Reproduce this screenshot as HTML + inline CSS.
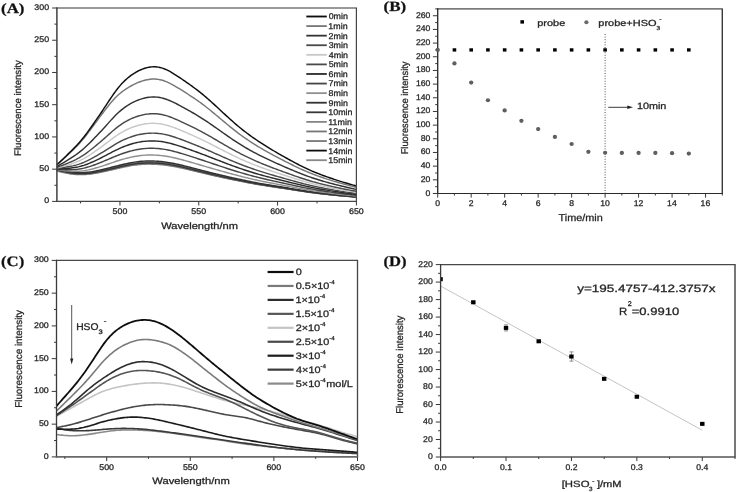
<!DOCTYPE html><html><head><meta charset="utf-8"><style>html,body{margin:0;padding:0;background:#fff;}svg{display:block;will-change:transform;}text{stroke:#262626;stroke-width:0.28px;text-rendering:geometricPrecision;}</style></head><body>
<svg width="738" height="492" viewBox="0 0 738 492">
<rect width="738" height="492" fill="#fff"/>
<defs><filter id="soft" x="0" y="0" width="738" height="492" filterUnits="userSpaceOnUse"><feGaussianBlur stdDeviation="0.35"/></filter></defs>
<g filter="url(#soft)">
<clipPath id="clipA"><rect x="56.9" y="8.0" width="299.5" height="193.4"/></clipPath>
<g clip-path="url(#clipA)">
<path d="M56.90,170.41 L58.48,170.77 L60.07,171.14 L61.65,171.50 L63.24,171.85 L64.82,172.19 L66.41,172.51 L67.99,172.82 L69.58,173.10 L71.16,173.35 L72.75,173.57 L74.33,173.75 L75.92,173.90 L77.50,174.00 L79.09,174.07 L80.67,174.10 L82.25,174.09 L83.84,174.04 L85.42,173.95 L87.01,173.83 L88.59,173.68 L90.18,173.49 L91.76,173.28 L93.35,173.04 L94.93,172.78 L96.52,172.49 L98.10,172.19 L99.69,171.88 L101.27,171.55 L102.86,171.21 L104.44,170.86 L106.02,170.50 L107.61,170.14 L109.19,169.77 L110.78,169.40 L112.36,169.02 L113.95,168.65 L115.53,168.27 L117.12,167.90 L118.70,167.53 L120.29,167.17 L121.87,166.81 L123.46,166.46 L125.04,166.12 L126.62,165.79 L128.21,165.48 L129.79,165.18 L131.38,164.90 L132.96,164.64 L134.55,164.40 L136.13,164.19 L137.72,163.99 L139.30,163.82 L140.89,163.68 L142.47,163.57 L144.06,163.48 L145.64,163.41 L147.23,163.38 L148.81,163.36 L150.39,163.37 L151.98,163.39 L153.56,163.44 L155.15,163.50 L156.73,163.58 L158.32,163.68 L159.90,163.80 L161.49,163.94 L163.07,164.10 L164.66,164.28 L166.24,164.48 L167.83,164.71 L169.41,164.95 L171.00,165.21 L172.58,165.49 L174.16,165.78 L175.75,166.09 L177.33,166.41 L178.92,166.74 L180.50,167.08 L182.09,167.44 L183.67,167.80 L185.26,168.17 L186.84,168.55 L188.43,168.94 L190.01,169.33 L191.60,169.72 L193.18,170.12 L194.77,170.51 L196.35,170.91 L197.93,171.30 L199.52,171.69 L201.10,172.07 L202.69,172.46 L204.27,172.84 L205.86,173.22 L207.44,173.59 L209.03,173.96 L210.61,174.33 L212.20,174.70 L213.78,175.06 L215.37,175.42 L216.95,175.78 L218.53,176.14 L220.12,176.49 L221.70,176.84 L223.29,177.19 L224.87,177.54 L226.46,177.88 L228.04,178.22 L229.63,178.56 L231.21,178.90 L232.80,179.23 L234.38,179.56 L235.97,179.89 L237.55,180.21 L239.14,180.54 L240.72,180.86 L242.30,181.18 L243.89,181.49 L245.47,181.80 L247.06,182.11 L248.64,182.42 L250.23,182.72 L251.81,183.02 L253.40,183.31 L254.98,183.60 L256.57,183.88 L258.15,184.16 L259.74,184.43 L261.32,184.70 L262.91,184.97 L264.49,185.22 L266.07,185.48 L267.66,185.72 L269.24,185.97 L270.83,186.21 L272.41,186.45 L274.00,186.69 L275.58,186.93 L277.17,187.16 L278.75,187.40 L280.34,187.64 L281.92,187.88 L283.51,188.12 L285.09,188.37 L286.68,188.61 L288.26,188.86 L289.84,189.11 L291.43,189.36 L293.01,189.61 L294.60,189.87 L296.18,190.12 L297.77,190.36 L299.35,190.61 L300.94,190.86 L302.52,191.10 L304.11,191.34 L305.69,191.57 L307.28,191.80 L308.86,192.03 L310.44,192.25 L312.03,192.46 L313.61,192.67 L315.20,192.87 L316.78,193.07 L318.37,193.26 L319.95,193.45 L321.54,193.64 L323.12,193.82 L324.71,194.00 L326.29,194.18 L327.88,194.35 L329.46,194.52 L331.05,194.68 L332.63,194.85 L334.21,195.01 L335.80,195.17 L337.38,195.32 L338.97,195.47 L340.55,195.62 L342.14,195.77 L343.72,195.91 L345.31,196.05 L346.89,196.18 L348.48,196.32 L350.06,196.45 L351.65,196.58 L353.23,196.71 L354.82,196.84 L356.40,196.97" fill="none" stroke="#888" stroke-width="1.45" stroke-linejoin="round" stroke-linecap="round"/>
<path d="M56.90,169.78 L58.48,170.16 L60.07,170.53 L61.65,170.89 L63.24,171.25 L64.82,171.60 L66.41,171.93 L67.99,172.24 L69.58,172.53 L71.16,172.78 L72.75,173.00 L74.33,173.19 L75.92,173.34 L77.50,173.45 L79.09,173.52 L80.67,173.55 L82.25,173.54 L83.84,173.49 L85.42,173.40 L87.01,173.27 L88.59,173.12 L90.18,172.93 L91.76,172.71 L93.35,172.47 L94.93,172.20 L96.52,171.91 L98.10,171.60 L99.69,171.28 L101.27,170.95 L102.86,170.60 L104.44,170.24 L106.02,169.88 L107.61,169.51 L109.19,169.13 L110.78,168.75 L112.36,168.37 L113.95,167.99 L115.53,167.60 L117.12,167.22 L118.70,166.85 L120.29,166.47 L121.87,166.11 L123.46,165.75 L125.04,165.41 L126.62,165.07 L128.21,164.75 L129.79,164.45 L131.38,164.17 L132.96,163.90 L134.55,163.66 L136.13,163.44 L137.72,163.24 L139.30,163.07 L140.89,162.92 L142.47,162.80 L144.06,162.71 L145.64,162.65 L147.23,162.61 L148.81,162.59 L150.39,162.60 L151.98,162.62 L153.56,162.67 L155.15,162.73 L156.73,162.82 L158.32,162.92 L159.90,163.04 L161.49,163.18 L163.07,163.34 L164.66,163.53 L166.24,163.74 L167.83,163.97 L169.41,164.21 L171.00,164.48 L172.58,164.76 L174.16,165.06 L175.75,165.38 L177.33,165.70 L178.92,166.04 L180.50,166.39 L182.09,166.75 L183.67,167.12 L185.26,167.50 L186.84,167.89 L188.43,168.28 L190.01,168.68 L191.60,169.08 L193.18,169.49 L194.77,169.89 L196.35,170.29 L197.93,170.69 L199.52,171.09 L201.10,171.48 L202.69,171.87 L204.27,172.26 L205.86,172.65 L207.44,173.03 L209.03,173.41 L210.61,173.78 L212.20,174.16 L213.78,174.53 L215.37,174.90 L216.95,175.26 L218.53,175.63 L220.12,175.99 L221.70,176.35 L223.29,176.70 L224.87,177.05 L226.46,177.41 L228.04,177.75 L229.63,178.10 L231.21,178.44 L232.80,178.78 L234.38,179.12 L235.97,179.45 L237.55,179.79 L239.14,180.12 L240.72,180.44 L242.30,180.77 L243.89,181.09 L245.47,181.41 L247.06,181.72 L248.64,182.03 L250.23,182.34 L251.81,182.64 L253.40,182.94 L254.98,183.24 L256.57,183.53 L258.15,183.81 L259.74,184.09 L261.32,184.37 L262.91,184.63 L264.49,184.90 L266.07,185.15 L267.66,185.41 L269.24,185.66 L270.83,185.90 L272.41,186.15 L274.00,186.39 L275.58,186.63 L277.17,186.88 L278.75,187.12 L280.34,187.36 L281.92,187.61 L283.51,187.85 L285.09,188.10 L286.68,188.36 L288.26,188.61 L289.84,188.86 L291.43,189.12 L293.01,189.38 L294.60,189.63 L296.18,189.89 L297.77,190.14 L299.35,190.39 L300.94,190.64 L302.52,190.89 L304.11,191.13 L305.69,191.37 L307.28,191.61 L308.86,191.84 L310.44,192.06 L312.03,192.28 L313.61,192.49 L315.20,192.70 L316.78,192.90 L318.37,193.10 L319.95,193.29 L321.54,193.48 L323.12,193.67 L324.71,193.85 L326.29,194.03 L327.88,194.21 L329.46,194.38 L331.05,194.55 L332.63,194.71 L334.21,194.88 L335.80,195.04 L337.38,195.20 L338.97,195.35 L340.55,195.50 L342.14,195.65 L343.72,195.80 L345.31,195.94 L346.89,196.08 L348.48,196.22 L350.06,196.35 L351.65,196.49 L353.23,196.62 L354.82,196.75 L356.40,196.88" fill="none" stroke="#111" stroke-width="1.45" stroke-linejoin="round" stroke-linecap="round"/>
<path d="M56.90,171.04 L58.48,171.39 L60.07,171.75 L61.65,172.10 L63.24,172.45 L64.82,172.78 L66.41,173.10 L67.99,173.40 L69.58,173.67 L71.16,173.91 L72.75,174.13 L74.33,174.31 L75.92,174.45 L77.50,174.56 L79.09,174.62 L80.67,174.65 L82.25,174.64 L83.84,174.59 L85.42,174.51 L87.01,174.39 L88.59,174.24 L90.18,174.05 L91.76,173.85 L93.35,173.61 L94.93,173.35 L96.52,173.08 L98.10,172.78 L99.69,172.47 L101.27,172.15 L102.86,171.82 L104.44,171.48 L106.02,171.13 L107.61,170.77 L109.19,170.41 L110.78,170.05 L112.36,169.68 L113.95,169.31 L115.53,168.94 L117.12,168.58 L118.70,168.21 L120.29,167.86 L121.87,167.51 L123.46,167.16 L125.04,166.83 L126.62,166.51 L128.21,166.20 L129.79,165.91 L131.38,165.64 L132.96,165.39 L134.55,165.15 L136.13,164.94 L137.72,164.75 L139.30,164.58 L140.89,164.44 L142.47,164.33 L144.06,164.24 L145.64,164.18 L147.23,164.14 L148.81,164.13 L150.39,164.13 L151.98,164.16 L153.56,164.20 L155.15,164.27 L156.73,164.34 L158.32,164.44 L159.90,164.56 L161.49,164.70 L163.07,164.85 L164.66,165.03 L166.24,165.23 L167.83,165.45 L169.41,165.69 L171.00,165.94 L172.58,166.21 L174.16,166.50 L175.75,166.80 L177.33,167.12 L178.92,167.44 L180.50,167.78 L182.09,168.12 L183.67,168.48 L185.26,168.84 L186.84,169.22 L188.43,169.59 L190.01,169.98 L191.60,170.36 L193.18,170.75 L194.77,171.14 L196.35,171.52 L197.93,171.90 L199.52,172.29 L201.10,172.66 L202.69,173.04 L204.27,173.41 L205.86,173.78 L207.44,174.15 L209.03,174.52 L210.61,174.88 L212.20,175.24 L213.78,175.59 L215.37,175.95 L216.95,176.30 L218.53,176.65 L220.12,176.99 L221.70,177.34 L223.29,177.68 L224.87,178.02 L226.46,178.36 L228.04,178.69 L229.63,179.02 L231.21,179.35 L232.80,179.68 L234.38,180.00 L235.97,180.32 L237.55,180.64 L239.14,180.96 L240.72,181.27 L242.30,181.58 L243.89,181.89 L245.47,182.20 L247.06,182.50 L248.64,182.80 L250.23,183.10 L251.81,183.39 L253.40,183.67 L254.98,183.96 L256.57,184.24 L258.15,184.51 L259.74,184.78 L261.32,185.04 L262.91,185.30 L264.49,185.55 L266.07,185.80 L267.66,186.04 L269.24,186.28 L270.83,186.52 L272.41,186.75 L274.00,186.99 L275.58,187.22 L277.17,187.45 L278.75,187.68 L280.34,187.92 L281.92,188.15 L283.51,188.39 L285.09,188.63 L286.68,188.87 L288.26,189.12 L289.84,189.36 L291.43,189.61 L293.01,189.85 L294.60,190.10 L296.18,190.34 L297.77,190.59 L299.35,190.83 L300.94,191.07 L302.52,191.31 L304.11,191.54 L305.69,191.77 L307.28,192.00 L308.86,192.22 L310.44,192.43 L312.03,192.64 L313.61,192.85 L315.20,193.04 L316.78,193.24 L318.37,193.43 L319.95,193.61 L321.54,193.80 L323.12,193.97 L324.71,194.15 L326.29,194.32 L327.88,194.49 L329.46,194.66 L331.05,194.82 L332.63,194.98 L334.21,195.14 L335.80,195.29 L337.38,195.44 L338.97,195.59 L340.55,195.74 L342.14,195.88 L343.72,196.02 L345.31,196.16 L346.89,196.29 L348.48,196.42 L350.06,196.55 L351.65,196.68 L353.23,196.81 L354.82,196.94 L356.40,197.06" fill="none" stroke="#777" stroke-width="1.45" stroke-linejoin="round" stroke-linecap="round"/>
<path d="M56.90,169.47 L58.48,169.85 L60.07,170.22 L61.65,170.59 L63.24,170.96 L64.82,171.31 L66.41,171.64 L67.99,171.95 L69.58,172.24 L71.16,172.50 L72.75,172.72 L74.33,172.91 L75.92,173.06 L77.50,173.17 L79.09,173.24 L80.67,173.27 L82.25,173.26 L83.84,173.21 L85.42,173.12 L87.01,173.00 L88.59,172.84 L90.18,172.65 L91.76,172.43 L93.35,172.18 L94.93,171.91 L96.52,171.62 L98.10,171.31 L99.69,170.98 L101.27,170.64 L102.86,170.29 L104.44,169.93 L106.02,169.57 L107.61,169.19 L109.19,168.81 L110.78,168.43 L112.36,168.04 L113.95,167.66 L115.53,167.27 L117.12,166.88 L118.70,166.50 L120.29,166.13 L121.87,165.76 L123.46,165.40 L125.04,165.05 L126.62,164.71 L128.21,164.39 L129.79,164.08 L131.38,163.80 L132.96,163.53 L134.55,163.28 L136.13,163.06 L137.72,162.86 L139.30,162.69 L140.89,162.54 L142.47,162.42 L144.06,162.33 L145.64,162.26 L147.23,162.22 L148.81,162.21 L150.39,162.21 L151.98,162.24 L153.56,162.29 L155.15,162.35 L156.73,162.43 L158.32,162.54 L159.90,162.66 L161.49,162.80 L163.07,162.97 L164.66,163.16 L166.24,163.36 L167.83,163.59 L169.41,163.85 L171.00,164.11 L172.58,164.40 L174.16,164.70 L175.75,165.02 L177.33,165.35 L178.92,165.69 L180.50,166.04 L182.09,166.41 L183.67,166.78 L185.26,167.17 L186.84,167.56 L188.43,167.95 L190.01,168.36 L191.60,168.76 L193.18,169.17 L194.77,169.58 L196.35,169.98 L197.93,170.38 L199.52,170.79 L201.10,171.18 L202.69,171.58 L204.27,171.97 L205.86,172.36 L207.44,172.75 L209.03,173.13 L210.61,173.51 L212.20,173.89 L213.78,174.26 L215.37,174.64 L216.95,175.01 L218.53,175.37 L220.12,175.74 L221.70,176.10 L223.29,176.46 L224.87,176.81 L226.46,177.17 L228.04,177.52 L229.63,177.87 L231.21,178.21 L232.80,178.56 L234.38,178.90 L235.97,179.24 L237.55,179.57 L239.14,179.91 L240.72,180.24 L242.30,180.56 L243.89,180.89 L245.47,181.21 L247.06,181.53 L248.64,181.84 L250.23,182.15 L251.81,182.46 L253.40,182.76 L254.98,183.06 L256.57,183.35 L258.15,183.64 L259.74,183.92 L261.32,184.20 L262.91,184.47 L264.49,184.73 L266.07,184.99 L267.66,185.25 L269.24,185.50 L270.83,185.75 L272.41,186.00 L274.00,186.24 L275.58,186.49 L277.17,186.73 L278.75,186.98 L280.34,187.22 L281.92,187.47 L283.51,187.72 L285.09,187.97 L286.68,188.23 L288.26,188.48 L289.84,188.74 L291.43,189.00 L293.01,189.26 L294.60,189.52 L296.18,189.77 L297.77,190.03 L299.35,190.29 L300.94,190.54 L302.52,190.79 L304.11,191.03 L305.69,191.27 L307.28,191.51 L308.86,191.74 L310.44,191.97 L312.03,192.19 L313.61,192.40 L315.20,192.61 L316.78,192.82 L318.37,193.02 L319.95,193.21 L321.54,193.40 L323.12,193.59 L324.71,193.78 L326.29,193.96 L327.88,194.13 L329.46,194.31 L331.05,194.48 L332.63,194.65 L334.21,194.81 L335.80,194.98 L337.38,195.14 L338.97,195.29 L340.55,195.44 L342.14,195.59 L343.72,195.74 L345.31,195.89 L346.89,196.03 L348.48,196.17 L350.06,196.30 L351.65,196.44 L353.23,196.57 L354.82,196.71 L356.40,196.84" fill="none" stroke="#777" stroke-width="1.45" stroke-linejoin="round" stroke-linecap="round"/>
<path d="M56.90,170.57 L58.48,170.93 L60.07,171.29 L61.65,171.65 L63.24,172.00 L64.82,172.34 L66.41,172.66 L67.99,172.96 L69.58,173.24 L71.16,173.49 L72.75,173.71 L74.33,173.89 L75.92,174.03 L77.50,174.14 L79.09,174.21 L80.67,174.24 L82.25,174.23 L83.84,174.18 L85.42,174.09 L87.01,173.97 L88.59,173.82 L90.18,173.63 L91.76,173.42 L93.35,173.18 L94.93,172.92 L96.52,172.64 L98.10,172.34 L99.69,172.03 L101.27,171.70 L102.86,171.36 L104.44,171.01 L106.02,170.66 L107.61,170.30 L109.19,169.93 L110.78,169.56 L112.36,169.19 L113.95,168.81 L115.53,168.44 L117.12,168.07 L118.70,167.70 L120.29,167.34 L121.87,166.98 L123.46,166.63 L125.04,166.30 L126.62,165.97 L128.21,165.66 L129.79,165.37 L131.38,165.09 L132.96,164.83 L134.55,164.59 L136.13,164.38 L137.72,164.18 L139.30,164.01 L140.89,163.87 L142.47,163.76 L144.06,163.67 L145.64,163.61 L147.23,163.57 L148.81,163.55 L150.39,163.56 L151.98,163.58 L153.56,163.63 L155.15,163.69 L156.73,163.77 L158.32,163.87 L159.90,163.99 L161.49,164.13 L163.07,164.29 L164.66,164.47 L166.24,164.67 L167.83,164.89 L169.41,165.13 L171.00,165.39 L172.58,165.67 L174.16,165.96 L175.75,166.27 L177.33,166.59 L178.92,166.92 L180.50,167.26 L182.09,167.61 L183.67,167.97 L185.26,168.34 L186.84,168.72 L188.43,169.10 L190.01,169.49 L191.60,169.88 L193.18,170.28 L194.77,170.67 L196.35,171.06 L197.93,171.45 L199.52,171.84 L201.10,172.22 L202.69,172.60 L204.27,172.98 L205.86,173.36 L207.44,173.73 L209.03,174.10 L210.61,174.47 L212.20,174.83 L213.78,175.19 L215.37,175.55 L216.95,175.91 L218.53,176.26 L220.12,176.62 L221.70,176.97 L223.29,177.31 L224.87,177.66 L226.46,178.00 L228.04,178.34 L229.63,178.68 L231.21,179.01 L232.80,179.34 L234.38,179.67 L235.97,180.00 L237.55,180.32 L239.14,180.64 L240.72,180.96 L242.30,181.28 L243.89,181.59 L245.47,181.90 L247.06,182.21 L248.64,182.51 L250.23,182.81 L251.81,183.11 L253.40,183.40 L254.98,183.69 L256.57,183.97 L258.15,184.25 L259.74,184.52 L261.32,184.79 L262.91,185.05 L264.49,185.30 L266.07,185.56 L267.66,185.80 L269.24,186.05 L270.83,186.29 L272.41,186.53 L274.00,186.76 L275.58,187.00 L277.17,187.23 L278.75,187.47 L280.34,187.71 L281.92,187.95 L283.51,188.19 L285.09,188.43 L286.68,188.68 L288.26,188.93 L289.84,189.17 L291.43,189.42 L293.01,189.67 L294.60,189.92 L296.18,190.17 L297.77,190.42 L299.35,190.67 L300.94,190.91 L302.52,191.15 L304.11,191.39 L305.69,191.62 L307.28,191.85 L308.86,192.07 L310.44,192.29 L312.03,192.51 L313.61,192.71 L315.20,192.92 L316.78,193.11 L318.37,193.31 L319.95,193.49 L321.54,193.68 L323.12,193.86 L324.71,194.04 L326.29,194.21 L327.88,194.38 L329.46,194.55 L331.05,194.72 L332.63,194.88 L334.21,195.04 L335.80,195.20 L337.38,195.35 L338.97,195.50 L340.55,195.65 L342.14,195.79 L343.72,195.94 L345.31,196.07 L346.89,196.21 L348.48,196.34 L350.06,196.48 L351.65,196.61 L353.23,196.74 L354.82,196.87 L356.40,197.00" fill="none" stroke="#858585" stroke-width="1.45" stroke-linejoin="round" stroke-linecap="round"/>
<path d="M56.90,170.10 L58.48,170.47 L60.07,170.83 L61.65,171.20 L63.24,171.55 L64.82,171.90 L66.41,172.22 L67.99,172.53 L69.58,172.81 L71.16,173.06 L72.75,173.28 L74.33,173.47 L75.92,173.62 L77.50,173.73 L79.09,173.80 L80.67,173.83 L82.25,173.81 L83.84,173.76 L85.42,173.68 L87.01,173.55 L88.59,173.40 L90.18,173.21 L91.76,172.99 L93.35,172.75 L94.93,172.49 L96.52,172.20 L98.10,171.90 L99.69,171.58 L101.27,171.25 L102.86,170.90 L104.44,170.55 L106.02,170.19 L107.61,169.83 L109.19,169.45 L110.78,169.08 L112.36,168.70 L113.95,168.32 L115.53,167.94 L117.12,167.56 L118.70,167.19 L120.29,166.82 L121.87,166.46 L123.46,166.11 L125.04,165.76 L126.62,165.43 L128.21,165.12 L129.79,164.82 L131.38,164.53 L132.96,164.27 L134.55,164.03 L136.13,163.81 L137.72,163.62 L139.30,163.45 L140.89,163.30 L142.47,163.18 L144.06,163.09 L145.64,163.03 L147.23,162.99 L148.81,162.98 L150.39,162.98 L151.98,163.01 L153.56,163.05 L155.15,163.12 L156.73,163.20 L158.32,163.30 L159.90,163.42 L161.49,163.56 L163.07,163.72 L164.66,163.91 L166.24,164.11 L167.83,164.34 L169.41,164.58 L171.00,164.85 L172.58,165.13 L174.16,165.42 L175.75,165.73 L177.33,166.06 L178.92,166.39 L180.50,166.74 L182.09,167.09 L183.67,167.46 L185.26,167.84 L186.84,168.22 L188.43,168.61 L190.01,169.00 L191.60,169.40 L193.18,169.80 L194.77,170.20 L196.35,170.60 L197.93,170.99 L199.52,171.39 L201.10,171.78 L202.69,172.16 L204.27,172.55 L205.86,172.93 L207.44,173.31 L209.03,173.69 L210.61,174.06 L212.20,174.43 L213.78,174.80 L215.37,175.16 L216.95,175.52 L218.53,175.88 L220.12,176.24 L221.70,176.59 L223.29,176.95 L224.87,177.30 L226.46,177.64 L228.04,177.99 L229.63,178.33 L231.21,178.67 L232.80,179.01 L234.38,179.34 L235.97,179.67 L237.55,180.00 L239.14,180.33 L240.72,180.65 L242.30,180.97 L243.89,181.29 L245.47,181.60 L247.06,181.92 L248.64,182.22 L250.23,182.53 L251.81,182.83 L253.40,183.13 L254.98,183.42 L256.57,183.71 L258.15,183.99 L259.74,184.26 L261.32,184.53 L262.91,184.80 L264.49,185.06 L266.07,185.32 L267.66,185.57 L269.24,185.81 L270.83,186.06 L272.41,186.30 L274.00,186.54 L275.58,186.78 L277.17,187.02 L278.75,187.26 L280.34,187.50 L281.92,187.74 L283.51,187.99 L285.09,188.24 L286.68,188.49 L288.26,188.74 L289.84,188.99 L291.43,189.24 L293.01,189.49 L294.60,189.75 L296.18,190.00 L297.77,190.25 L299.35,190.50 L300.94,190.75 L302.52,191.00 L304.11,191.24 L305.69,191.47 L307.28,191.70 L308.86,191.93 L310.44,192.15 L312.03,192.37 L313.61,192.58 L315.20,192.79 L316.78,192.99 L318.37,193.18 L319.95,193.37 L321.54,193.56 L323.12,193.75 L324.71,193.93 L326.29,194.10 L327.88,194.28 L329.46,194.45 L331.05,194.62 L332.63,194.78 L334.21,194.94 L335.80,195.10 L337.38,195.26 L338.97,195.41 L340.55,195.56 L342.14,195.71 L343.72,195.85 L345.31,195.99 L346.89,196.13 L348.48,196.27 L350.06,196.40 L351.65,196.53 L353.23,196.67 L354.82,196.80 L356.40,196.93" fill="none" stroke="#383838" stroke-width="1.45" stroke-linejoin="round" stroke-linecap="round"/>
<path d="M56.90,168.96 L58.48,169.33 L60.07,169.70 L61.65,170.07 L63.24,170.42 L64.82,170.76 L66.41,171.09 L67.99,171.40 L69.58,171.67 L71.16,171.92 L72.75,172.14 L74.33,172.32 L75.92,172.46 L77.50,172.56 L79.09,172.62 L80.67,172.64 L82.25,172.61 L83.84,172.55 L85.42,172.45 L87.01,172.30 L88.59,172.13 L90.18,171.92 L91.76,171.69 L93.35,171.42 L94.93,171.13 L96.52,170.82 L98.10,170.50 L99.69,170.15 L101.27,169.80 L102.86,169.43 L104.44,169.05 L106.02,168.66 L107.61,168.27 L109.19,167.87 L110.78,167.47 L112.36,167.06 L113.95,166.66 L115.53,166.25 L117.12,165.85 L118.70,165.45 L120.29,165.06 L121.87,164.68 L123.46,164.31 L125.04,163.94 L126.62,163.59 L128.21,163.26 L129.79,162.94 L131.38,162.64 L132.96,162.37 L134.55,162.11 L136.13,161.88 L137.72,161.67 L139.30,161.49 L140.89,161.34 L142.47,161.21 L144.06,161.12 L145.64,161.05 L147.23,161.01 L148.81,160.99 L150.39,160.99 L151.98,161.02 L153.56,161.07 L155.15,161.13 L156.73,161.22 L158.32,161.32 L159.90,161.45 L161.49,161.59 L163.07,161.76 L164.66,161.96 L166.24,162.17 L167.83,162.41 L169.41,162.67 L171.00,162.94 L172.58,163.24 L174.16,163.55 L175.75,163.88 L177.33,164.21 L178.92,164.57 L180.50,164.93 L182.09,165.30 L183.67,165.69 L185.26,166.08 L186.84,166.48 L188.43,166.89 L190.01,167.31 L191.60,167.72 L193.18,168.14 L194.77,168.56 L196.35,168.97 L197.93,169.39 L199.52,169.80 L201.10,170.21 L202.69,170.62 L204.27,171.02 L205.86,171.42 L207.44,171.82 L209.03,172.22 L210.61,172.61 L212.20,173.00 L213.78,173.39 L215.37,173.78 L216.95,174.16 L218.53,174.54 L220.12,174.91 L221.70,175.29 L223.29,175.66 L224.87,176.03 L226.46,176.40 L228.04,176.76 L229.63,177.12 L231.21,177.48 L232.80,177.84 L234.38,178.19 L235.97,178.54 L237.55,178.89 L239.14,179.23 L240.72,179.57 L242.30,179.91 L243.89,180.25 L245.47,180.58 L247.06,180.91 L248.64,181.23 L250.23,181.55 L251.81,181.87 L253.40,182.18 L254.98,182.49 L256.57,182.79 L258.15,183.09 L259.74,183.38 L261.32,183.67 L262.91,183.95 L264.49,184.22 L266.07,184.49 L267.66,184.75 L269.24,185.02 L270.83,185.27 L272.41,185.53 L274.00,185.78 L275.58,186.03 L277.17,186.29 L278.75,186.54 L280.34,186.79 L281.92,187.05 L283.51,187.31 L285.09,187.57 L286.68,187.83 L288.26,188.09 L289.84,188.36 L291.43,188.63 L293.01,188.89 L294.60,189.16 L296.18,189.42 L297.77,189.69 L299.35,189.95 L300.94,190.21 L302.52,190.47 L304.11,190.72 L305.69,190.97 L307.28,191.21 L308.86,191.45 L310.44,191.68 L312.03,191.91 L313.61,192.13 L315.20,192.35 L316.78,192.56 L318.37,192.76 L319.95,192.96 L321.54,193.16 L323.12,193.35 L324.71,193.54 L326.29,193.73 L327.88,193.91 L329.46,194.09 L331.05,194.27 L332.63,194.44 L334.21,194.61 L335.80,194.78 L337.38,194.94 L338.97,195.10 L340.55,195.26 L342.14,195.42 L343.72,195.57 L345.31,195.72 L346.89,195.86 L348.48,196.00 L350.06,196.15 L351.65,196.28 L353.23,196.42 L354.82,196.56 L356.40,196.70" fill="none" stroke="#333" stroke-width="1.45" stroke-linejoin="round" stroke-linecap="round"/>
<path d="M56.90,169.66 L58.48,169.87 L60.07,170.08 L61.65,170.29 L63.24,170.49 L64.82,170.67 L66.41,170.85 L67.99,171.00 L69.58,171.13 L71.16,171.23 L72.75,171.30 L74.33,171.33 L75.92,171.33 L77.50,171.29 L79.09,171.21 L80.67,171.08 L82.25,170.91 L83.84,170.70 L85.42,170.45 L87.01,170.16 L88.59,169.84 L90.18,169.48 L91.76,169.10 L93.35,168.69 L94.93,168.26 L96.52,167.81 L98.10,167.34 L99.69,166.85 L101.27,166.36 L102.86,165.84 L104.44,165.32 L106.02,164.79 L107.61,164.26 L109.19,163.72 L110.78,163.17 L112.36,162.63 L113.95,162.09 L115.53,161.56 L117.12,161.04 L118.70,160.53 L120.29,160.04 L121.87,159.56 L123.46,159.10 L125.04,158.66 L126.62,158.23 L128.21,157.83 L129.79,157.45 L131.38,157.09 L132.96,156.76 L134.55,156.46 L136.13,156.18 L137.72,155.93 L139.30,155.71 L140.89,155.52 L142.47,155.35 L144.06,155.23 L145.64,155.13 L147.23,155.06 L148.81,155.01 L150.39,155.00 L151.98,155.01 L153.56,155.04 L155.15,155.10 L156.73,155.19 L158.32,155.30 L159.90,155.43 L161.49,155.60 L163.07,155.79 L164.66,156.00 L166.24,156.25 L167.83,156.52 L169.41,156.81 L171.00,157.13 L172.58,157.46 L174.16,157.82 L175.75,158.18 L177.33,158.57 L178.92,158.96 L180.50,159.37 L182.09,159.78 L183.67,160.21 L185.26,160.65 L186.84,161.09 L188.43,161.54 L190.01,162.00 L191.60,162.45 L193.18,162.92 L194.77,163.38 L196.35,163.84 L197.93,164.30 L199.52,164.77 L201.10,165.23 L202.69,165.69 L204.27,166.16 L205.86,166.62 L207.44,167.08 L209.03,167.54 L210.61,168.00 L212.20,168.46 L213.78,168.92 L215.37,169.37 L216.95,169.83 L218.53,170.28 L220.12,170.73 L221.70,171.17 L223.29,171.62 L224.87,172.06 L226.46,172.50 L228.04,172.94 L229.63,173.37 L231.21,173.80 L232.80,174.23 L234.38,174.65 L235.97,175.07 L237.55,175.48 L239.14,175.89 L240.72,176.29 L242.30,176.69 L243.89,177.09 L245.47,177.48 L247.06,177.87 L248.64,178.25 L250.23,178.62 L251.81,178.99 L253.40,179.36 L254.98,179.72 L256.57,180.07 L258.15,180.42 L259.74,180.76 L261.32,181.09 L262.91,181.42 L264.49,181.74 L266.07,182.06 L267.66,182.37 L269.24,182.68 L270.83,182.98 L272.41,183.28 L274.00,183.58 L275.58,183.88 L277.17,184.18 L278.75,184.47 L280.34,184.77 L281.92,185.07 L283.51,185.37 L285.09,185.67 L286.68,185.97 L288.26,186.27 L289.84,186.58 L291.43,186.88 L293.01,187.18 L294.60,187.49 L296.18,187.79 L297.77,188.09 L299.35,188.39 L300.94,188.68 L302.52,188.97 L304.11,189.26 L305.69,189.54 L307.28,189.81 L308.86,190.08 L310.44,190.34 L312.03,190.60 L313.61,190.85 L315.20,191.09 L316.78,191.33 L318.37,191.56 L319.95,191.78 L321.54,192.01 L323.12,192.22 L324.71,192.44 L326.29,192.65 L327.88,192.85 L329.46,193.06 L331.05,193.25 L332.63,193.45 L334.21,193.64 L335.80,193.83 L337.38,194.02 L338.97,194.20 L340.55,194.38 L342.14,194.55 L343.72,194.73 L345.31,194.90 L346.89,195.06 L348.48,195.23 L350.06,195.39 L351.65,195.55 L353.23,195.70 L354.82,195.86 L356.40,196.02" fill="none" stroke="#909090" stroke-width="1.45" stroke-linejoin="round" stroke-linecap="round"/>
<path d="M56.90,169.29 L58.48,169.37 L60.07,169.45 L61.65,169.52 L63.24,169.59 L64.82,169.65 L66.41,169.69 L67.99,169.71 L69.58,169.71 L71.16,169.69 L72.75,169.63 L74.33,169.54 L75.92,169.41 L77.50,169.25 L79.09,169.04 L80.67,168.78 L82.25,168.48 L83.84,168.14 L85.42,167.75 L87.01,167.32 L88.59,166.86 L90.18,166.36 L91.76,165.84 L93.35,165.29 L94.93,164.71 L96.52,164.12 L98.10,163.52 L99.69,162.89 L101.27,162.25 L102.86,161.60 L104.44,160.94 L106.02,160.27 L107.61,159.59 L109.19,158.90 L110.78,158.22 L112.36,157.54 L113.95,156.87 L115.53,156.22 L117.12,155.58 L118.70,154.96 L120.29,154.36 L121.87,153.78 L123.46,153.23 L125.04,152.70 L126.62,152.20 L128.21,151.72 L129.79,151.27 L131.38,150.86 L132.96,150.47 L134.55,150.11 L136.13,149.78 L137.72,149.48 L139.30,149.22 L140.89,148.99 L142.47,148.79 L144.06,148.63 L145.64,148.50 L147.23,148.40 L148.81,148.34 L150.39,148.30 L151.98,148.30 L153.56,148.33 L155.15,148.38 L156.73,148.47 L158.32,148.59 L159.90,148.74 L161.49,148.92 L163.07,149.13 L164.66,149.38 L166.24,149.65 L167.83,149.96 L169.41,150.30 L171.00,150.65 L172.58,151.03 L174.16,151.43 L175.75,151.85 L177.33,152.28 L178.92,152.73 L180.50,153.19 L182.09,153.65 L183.67,154.13 L185.26,154.62 L186.84,155.11 L188.43,155.61 L190.01,156.12 L191.60,156.63 L193.18,157.14 L194.77,157.66 L196.35,158.18 L197.93,158.70 L199.52,159.22 L201.10,159.74 L202.69,160.27 L204.27,160.80 L205.86,161.33 L207.44,161.86 L209.03,162.39 L210.61,162.92 L212.20,163.45 L213.78,163.99 L215.37,164.52 L216.95,165.05 L218.53,165.58 L220.12,166.10 L221.70,166.63 L223.29,167.15 L224.87,167.67 L226.46,168.19 L228.04,168.70 L229.63,169.21 L231.21,169.71 L232.80,170.22 L234.38,170.71 L235.97,171.20 L237.55,171.69 L239.14,172.17 L240.72,172.64 L242.30,173.11 L243.89,173.57 L245.47,174.02 L247.06,174.47 L248.64,174.91 L250.23,175.35 L251.81,175.77 L253.40,176.20 L254.98,176.61 L256.57,177.02 L258.15,177.42 L259.74,177.82 L261.32,178.20 L262.91,178.58 L264.49,178.96 L266.07,179.33 L267.66,179.69 L269.24,180.05 L270.83,180.40 L272.41,180.75 L274.00,181.10 L275.58,181.45 L277.17,181.79 L278.75,182.13 L280.34,182.48 L281.92,182.82 L283.51,183.17 L285.09,183.51 L286.68,183.86 L288.26,184.20 L289.84,184.55 L291.43,184.90 L293.01,185.25 L294.60,185.59 L296.18,185.93 L297.77,186.27 L299.35,186.61 L300.94,186.94 L302.52,187.27 L304.11,187.60 L305.69,187.91 L307.28,188.22 L308.86,188.52 L310.44,188.82 L312.03,189.11 L313.61,189.39 L315.20,189.66 L316.78,189.93 L318.37,190.19 L319.95,190.45 L321.54,190.70 L323.12,190.95 L324.71,191.19 L326.29,191.43 L327.88,191.66 L329.46,191.89 L331.05,192.11 L332.63,192.34 L334.21,192.55 L335.80,192.77 L337.38,192.98 L338.97,193.19 L340.55,193.39 L342.14,193.59 L343.72,193.78 L345.31,193.98 L346.89,194.16 L348.48,194.35 L350.06,194.54 L351.65,194.72 L353.23,194.90 L354.82,195.08 L356.40,195.26" fill="none" stroke="#444" stroke-width="1.45" stroke-linejoin="round" stroke-linecap="round"/>
<path d="M56.90,168.88 L58.48,168.82 L60.07,168.76 L61.65,168.69 L63.24,168.61 L64.82,168.53 L66.41,168.42 L67.99,168.31 L69.58,168.17 L71.16,168.00 L72.75,167.80 L74.33,167.58 L75.92,167.31 L77.50,167.01 L79.09,166.66 L80.67,166.26 L82.25,165.81 L83.84,165.32 L85.42,164.79 L87.01,164.21 L88.59,163.59 L90.18,162.94 L91.76,162.26 L93.35,161.55 L94.93,160.83 L96.52,160.08 L98.10,159.32 L99.69,158.55 L101.27,157.75 L102.86,156.95 L104.44,156.13 L106.02,155.30 L107.61,154.47 L109.19,153.63 L110.78,152.79 L112.36,151.97 L113.95,151.15 L115.53,150.36 L117.12,149.58 L118.70,148.84 L120.29,148.12 L121.87,147.44 L123.46,146.79 L125.04,146.16 L126.62,145.58 L128.21,145.02 L129.79,144.50 L131.38,144.02 L132.96,143.56 L134.55,143.15 L136.13,142.76 L137.72,142.41 L139.30,142.10 L140.89,141.83 L142.47,141.59 L144.06,141.39 L145.64,141.23 L147.23,141.11 L148.81,141.02 L150.39,140.96 L151.98,140.95 L153.56,140.96 L155.15,141.02 L156.73,141.10 L158.32,141.23 L159.90,141.39 L161.49,141.59 L163.07,141.83 L164.66,142.11 L166.24,142.43 L167.83,142.77 L169.41,143.15 L171.00,143.56 L172.58,143.99 L174.16,144.44 L175.75,144.91 L177.33,145.40 L178.92,145.90 L180.50,146.41 L182.09,146.93 L183.67,147.47 L185.26,148.01 L186.84,148.56 L188.43,149.11 L190.01,149.67 L191.60,150.24 L193.18,150.81 L194.77,151.39 L196.35,151.96 L197.93,152.55 L199.52,153.13 L201.10,153.73 L202.69,154.32 L204.27,154.92 L205.86,155.52 L207.44,156.13 L209.03,156.74 L210.61,157.35 L212.20,157.97 L213.78,158.58 L215.37,159.20 L216.95,159.81 L218.53,160.42 L220.12,161.04 L221.70,161.64 L223.29,162.25 L224.87,162.86 L226.46,163.46 L228.04,164.06 L229.63,164.65 L231.21,165.24 L232.80,165.82 L234.38,166.40 L235.97,166.97 L237.55,167.53 L239.14,168.09 L240.72,168.63 L242.30,169.17 L243.89,169.71 L245.47,170.23 L247.06,170.75 L248.64,171.25 L250.23,171.75 L251.81,172.25 L253.40,172.73 L254.98,173.21 L256.57,173.68 L258.15,174.14 L259.74,174.59 L261.32,175.04 L262.91,175.48 L264.49,175.91 L266.07,176.33 L267.66,176.75 L269.24,177.17 L270.83,177.58 L272.41,177.98 L274.00,178.38 L275.58,178.78 L277.17,179.18 L278.75,179.57 L280.34,179.97 L281.92,180.36 L283.51,180.75 L285.09,181.15 L286.68,181.54 L288.26,181.94 L289.84,182.33 L291.43,182.73 L293.01,183.12 L294.60,183.51 L296.18,183.90 L297.77,184.29 L299.35,184.67 L300.94,185.04 L302.52,185.41 L304.11,185.77 L305.69,186.13 L307.28,186.48 L308.86,186.82 L310.44,187.15 L312.03,187.48 L313.61,187.79 L315.20,188.10 L316.78,188.40 L318.37,188.70 L319.95,188.99 L321.54,189.27 L323.12,189.55 L324.71,189.82 L326.29,190.09 L327.88,190.35 L329.46,190.61 L331.05,190.86 L332.63,191.11 L334.21,191.36 L335.80,191.60 L337.38,191.84 L338.97,192.07 L340.55,192.30 L342.14,192.53 L343.72,192.75 L345.31,192.97 L346.89,193.18 L348.48,193.39 L350.06,193.60 L351.65,193.81 L353.23,194.01 L354.82,194.22 L356.40,194.42" fill="none" stroke="#2a2a2a" stroke-width="1.45" stroke-linejoin="round" stroke-linecap="round"/>
<path d="M56.90,168.46 L58.48,168.24 L60.07,168.02 L61.65,167.80 L63.24,167.57 L64.82,167.33 L66.41,167.08 L67.99,166.81 L69.58,166.52 L71.16,166.21 L72.75,165.87 L74.33,165.49 L75.92,165.08 L77.50,164.63 L79.09,164.13 L80.67,163.58 L82.25,162.98 L83.84,162.34 L85.42,161.64 L87.01,160.90 L88.59,160.12 L90.18,159.30 L91.76,158.46 L93.35,157.59 L94.93,156.70 L96.52,155.80 L98.10,154.88 L99.69,153.94 L101.27,152.98 L102.86,152.01 L104.44,151.03 L106.02,150.04 L107.61,149.03 L109.19,148.03 L110.78,147.03 L112.36,146.04 L113.95,145.08 L115.53,144.13 L117.12,143.22 L118.70,142.35 L120.29,141.51 L121.87,140.71 L123.46,139.95 L125.04,139.23 L126.62,138.55 L128.21,137.91 L129.79,137.32 L131.38,136.76 L132.96,136.24 L134.55,135.76 L136.13,135.31 L137.72,134.91 L139.30,134.55 L140.89,134.23 L142.47,133.95 L144.06,133.71 L145.64,133.52 L147.23,133.36 L148.81,133.25 L150.39,133.17 L151.98,133.14 L153.56,133.15 L155.15,133.20 L156.73,133.29 L158.32,133.42 L159.90,133.60 L161.49,133.82 L163.07,134.09 L164.66,134.40 L166.24,134.75 L167.83,135.14 L169.41,135.57 L171.00,136.03 L172.58,136.51 L174.16,137.02 L175.75,137.54 L177.33,138.09 L178.92,138.65 L180.50,139.22 L182.09,139.80 L183.67,140.39 L185.26,140.99 L186.84,141.60 L188.43,142.21 L190.01,142.83 L191.60,143.46 L193.18,144.09 L194.77,144.73 L196.35,145.37 L197.93,146.02 L199.52,146.68 L201.10,147.34 L202.69,148.01 L204.27,148.68 L205.86,149.37 L207.44,150.05 L209.03,150.75 L210.61,151.44 L212.20,152.14 L213.78,152.85 L215.37,153.55 L216.95,154.25 L218.53,154.96 L220.12,155.66 L221.70,156.36 L223.29,157.05 L224.87,157.75 L226.46,158.44 L228.04,159.13 L229.63,159.81 L231.21,160.49 L232.80,161.16 L234.38,161.82 L235.97,162.47 L237.55,163.12 L239.14,163.76 L240.72,164.38 L242.30,165.00 L243.89,165.61 L245.47,166.21 L247.06,166.79 L248.64,167.37 L250.23,167.94 L251.81,168.50 L253.40,169.05 L254.98,169.60 L256.57,170.13 L258.15,170.65 L259.74,171.17 L261.32,171.68 L262.91,172.18 L264.49,172.67 L266.07,173.16 L267.66,173.64 L269.24,174.11 L270.83,174.58 L272.41,175.04 L274.00,175.49 L275.58,175.95 L277.17,176.40 L278.75,176.85 L280.34,177.30 L281.92,177.75 L283.51,178.19 L285.09,178.64 L286.68,179.09 L288.26,179.53 L289.84,179.98 L291.43,180.42 L293.01,180.87 L294.60,181.31 L296.18,181.74 L297.77,182.17 L299.35,182.60 L300.94,183.02 L302.52,183.44 L304.11,183.84 L305.69,184.24 L307.28,184.63 L308.86,185.01 L310.44,185.38 L312.03,185.75 L313.61,186.10 L315.20,186.45 L316.78,186.78 L318.37,187.11 L319.95,187.44 L321.54,187.75 L323.12,188.06 L324.71,188.37 L326.29,188.67 L327.88,188.96 L329.46,189.25 L331.05,189.54 L332.63,189.82 L334.21,190.09 L335.80,190.36 L337.38,190.63 L338.97,190.89 L340.55,191.15 L342.14,191.40 L343.72,191.65 L345.31,191.90 L346.89,192.14 L348.48,192.38 L350.06,192.61 L351.65,192.84 L353.23,193.08 L354.82,193.31 L356.40,193.54" fill="none" stroke="#4a4a4a" stroke-width="1.45" stroke-linejoin="round" stroke-linecap="round"/>
<path d="M56.90,167.92 L58.48,167.51 L60.07,167.10 L61.65,166.68 L63.24,166.26 L64.82,165.83 L66.41,165.39 L67.99,164.94 L69.58,164.46 L71.16,163.96 L72.75,163.43 L74.33,162.87 L75.92,162.28 L77.50,161.64 L79.09,160.96 L80.67,160.22 L82.25,159.43 L83.84,158.59 L85.42,157.69 L87.01,156.74 L88.59,155.76 L90.18,154.74 L91.76,153.69 L93.35,152.62 L94.93,151.52 L96.52,150.41 L98.10,149.29 L99.69,148.14 L101.27,146.99 L102.86,145.81 L104.44,144.62 L106.02,143.42 L107.61,142.21 L109.19,141.00 L110.78,139.79 L112.36,138.61 L113.95,137.45 L115.53,136.32 L117.12,135.23 L118.70,134.19 L120.29,133.20 L121.87,132.26 L123.46,131.36 L125.04,130.52 L126.62,129.73 L128.21,128.98 L129.79,128.29 L131.38,127.64 L132.96,127.03 L134.55,126.47 L136.13,125.96 L137.72,125.49 L139.30,125.07 L140.89,124.69 L142.47,124.35 L144.06,124.07 L145.64,123.83 L147.23,123.64 L148.81,123.49 L150.39,123.39 L151.98,123.33 L153.56,123.33 L155.15,123.37 L156.73,123.47 L158.32,123.61 L159.90,123.81 L161.49,124.06 L163.07,124.36 L164.66,124.72 L166.24,125.12 L167.83,125.56 L169.41,126.05 L171.00,126.57 L172.58,127.12 L174.16,127.69 L175.75,128.29 L177.33,128.91 L178.92,129.54 L180.50,130.19 L182.09,130.84 L183.67,131.51 L185.26,132.18 L186.84,132.86 L188.43,133.55 L190.01,134.24 L191.60,134.94 L193.18,135.65 L194.77,136.37 L196.35,137.09 L197.93,137.82 L199.52,138.56 L201.10,139.32 L202.69,140.08 L204.27,140.85 L205.86,141.63 L207.44,142.42 L209.03,143.22 L210.61,144.02 L212.20,144.83 L213.78,145.64 L215.37,146.46 L216.95,147.27 L218.53,148.09 L220.12,148.90 L221.70,149.71 L223.29,150.52 L224.87,151.33 L226.46,152.13 L228.04,152.93 L229.63,153.73 L231.21,154.52 L232.80,155.30 L234.38,156.07 L235.97,156.83 L237.55,157.58 L239.14,158.32 L240.72,159.04 L242.30,159.76 L243.89,160.46 L245.47,161.15 L247.06,161.83 L248.64,162.50 L250.23,163.15 L251.81,163.80 L253.40,164.43 L254.98,165.06 L256.57,165.67 L258.15,166.28 L259.74,166.87 L261.32,167.46 L262.91,168.04 L264.49,168.61 L266.07,169.17 L267.66,169.72 L269.24,170.27 L270.83,170.81 L272.41,171.34 L274.00,171.87 L275.58,172.39 L277.17,172.92 L278.75,173.43 L280.34,173.95 L281.92,174.47 L283.51,174.98 L285.09,175.49 L286.68,176.00 L288.26,176.51 L289.84,177.02 L291.43,177.53 L293.01,178.03 L294.60,178.53 L296.18,179.03 L297.77,179.52 L299.35,180.01 L300.94,180.48 L302.52,180.95 L304.11,181.42 L305.69,181.87 L307.28,182.31 L308.86,182.74 L310.44,183.16 L312.03,183.57 L313.61,183.97 L315.20,184.36 L316.78,184.75 L318.37,185.12 L319.95,185.49 L321.54,185.85 L323.12,186.20 L324.71,186.54 L326.29,186.88 L327.88,187.22 L329.46,187.54 L331.05,187.87 L332.63,188.19 L334.21,188.50 L335.80,188.81 L337.38,189.11 L338.97,189.41 L340.55,189.70 L342.14,189.99 L343.72,190.27 L345.31,190.55 L346.89,190.83 L348.48,191.10 L350.06,191.37 L351.65,191.63 L353.23,191.90 L354.82,192.16 L356.40,192.43" fill="none" stroke="#c8c8c8" stroke-width="1.45" stroke-linejoin="round" stroke-linecap="round"/>
<path d="M56.90,167.39 L58.48,166.79 L60.07,166.19 L61.65,165.59 L63.24,164.98 L64.82,164.37 L66.41,163.74 L67.99,163.10 L69.58,162.43 L71.16,161.75 L72.75,161.04 L74.33,160.30 L75.92,159.53 L77.50,158.71 L79.09,157.84 L80.67,156.92 L82.25,155.94 L83.84,154.91 L85.42,153.82 L87.01,152.67 L88.59,151.49 L90.18,150.26 L91.76,149.01 L93.35,147.74 L94.93,146.44 L96.52,145.13 L98.10,143.81 L99.69,142.47 L101.27,141.11 L102.86,139.73 L104.44,138.34 L106.02,136.93 L107.61,135.52 L109.19,134.10 L110.78,132.70 L112.36,131.32 L113.95,129.97 L115.53,128.66 L117.12,127.40 L118.70,126.20 L120.29,125.05 L121.87,123.97 L123.46,122.95 L125.04,121.98 L126.62,121.08 L128.21,120.23 L129.79,119.44 L131.38,118.70 L132.96,118.01 L134.55,117.37 L136.13,116.79 L137.72,116.25 L139.30,115.77 L140.89,115.33 L142.47,114.95 L144.06,114.61 L145.64,114.33 L147.23,114.10 L148.81,113.92 L150.39,113.79 L151.98,113.72 L153.56,113.70 L155.15,113.74 L156.73,113.84 L158.32,114.00 L159.90,114.21 L161.49,114.49 L163.07,114.83 L164.66,115.22 L166.24,115.67 L167.83,116.17 L169.41,116.71 L171.00,117.29 L172.58,117.91 L174.16,118.55 L175.75,119.22 L177.33,119.91 L178.92,120.61 L180.50,121.33 L182.09,122.06 L183.67,122.80 L185.26,123.54 L186.84,124.29 L188.43,125.05 L190.01,125.82 L191.60,126.59 L193.18,127.38 L194.77,128.17 L196.35,128.97 L197.93,129.79 L199.52,130.61 L201.10,131.45 L202.69,132.30 L204.27,133.17 L205.86,134.05 L207.44,134.94 L209.03,135.83 L210.61,136.74 L212.20,137.66 L213.78,138.58 L215.37,139.50 L216.95,140.43 L218.53,141.35 L220.12,142.28 L221.70,143.20 L223.29,144.12 L224.87,145.04 L226.46,145.95 L228.04,146.86 L229.63,147.77 L231.21,148.66 L232.80,149.55 L234.38,150.43 L235.97,151.29 L237.55,152.15 L239.14,152.98 L240.72,153.81 L242.30,154.62 L243.89,155.41 L245.47,156.20 L247.06,156.96 L248.64,157.72 L250.23,158.46 L251.81,159.19 L253.40,159.90 L254.98,160.61 L256.57,161.30 L258.15,161.99 L259.74,162.66 L261.32,163.32 L262.91,163.98 L264.49,164.62 L266.07,165.25 L267.66,165.88 L269.24,166.50 L270.83,167.11 L272.41,167.72 L274.00,168.31 L275.58,168.91 L277.17,169.50 L278.75,170.08 L280.34,170.67 L281.92,171.25 L283.51,171.83 L285.09,172.40 L286.68,172.98 L288.26,173.55 L289.84,174.12 L291.43,174.69 L293.01,175.26 L294.60,175.82 L296.18,176.37 L297.77,176.92 L299.35,177.46 L300.94,178.00 L302.52,178.52 L304.11,179.04 L305.69,179.54 L307.28,180.03 L308.86,180.51 L310.44,180.98 L312.03,181.44 L313.61,181.89 L315.20,182.32 L316.78,182.75 L318.37,183.17 L319.95,183.58 L321.54,183.98 L323.12,184.37 L324.71,184.75 L326.29,185.13 L327.88,185.51 L329.46,185.87 L331.05,186.23 L332.63,186.59 L334.21,186.94 L335.80,187.28 L337.38,187.62 L338.97,187.95 L340.55,188.28 L342.14,188.60 L343.72,188.92 L345.31,189.23 L346.89,189.54 L348.48,189.84 L350.06,190.15 L351.65,190.45 L353.23,190.74 L354.82,191.04 L356.40,191.33" fill="none" stroke="#4a4a4a" stroke-width="1.45" stroke-linejoin="round" stroke-linecap="round"/>
<path d="M56.90,166.47 L58.48,165.55 L60.07,164.62 L61.65,163.69 L63.24,162.76 L64.82,161.81 L66.41,160.86 L67.99,159.90 L69.58,158.92 L71.16,157.92 L72.75,156.89 L74.33,155.84 L75.92,154.75 L77.50,153.62 L79.09,152.44 L80.67,151.19 L82.25,149.89 L83.84,148.52 L85.42,147.08 L87.01,145.59 L88.59,144.06 L90.18,142.48 L91.76,140.88 L93.35,139.26 L94.93,137.62 L96.52,135.96 L98.10,134.29 L99.69,132.60 L101.27,130.89 L102.86,129.16 L104.44,127.42 L106.02,125.66 L107.61,123.89 L109.19,122.12 L110.78,120.37 L112.36,118.65 L113.95,116.97 L115.53,115.34 L117.12,113.79 L118.70,112.30 L120.29,110.89 L121.87,109.57 L123.46,108.31 L125.04,107.14 L126.62,106.04 L128.21,105.01 L129.79,104.05 L131.38,103.16 L132.96,102.33 L134.55,101.56 L136.13,100.85 L137.72,100.20 L139.30,99.60 L140.89,99.07 L142.47,98.59 L144.06,98.18 L145.64,97.82 L147.23,97.53 L148.81,97.29 L150.39,97.12 L151.98,97.01 L153.56,96.97 L155.15,97.01 L156.73,97.11 L158.32,97.28 L159.90,97.53 L161.49,97.86 L163.07,98.25 L164.66,98.72 L166.24,99.25 L167.83,99.84 L169.41,100.48 L171.00,101.17 L172.58,101.90 L174.16,102.66 L175.75,103.45 L177.33,104.26 L178.92,105.09 L180.50,105.94 L182.09,106.79 L183.67,107.65 L185.26,108.52 L186.84,109.40 L188.43,110.29 L190.01,111.18 L191.60,112.08 L193.18,113.00 L194.77,113.92 L196.35,114.86 L197.93,115.82 L199.52,116.79 L201.10,117.78 L202.69,118.79 L204.27,119.82 L205.86,120.86 L207.44,121.93 L209.03,123.00 L210.61,124.09 L212.20,125.19 L213.78,126.30 L215.37,127.41 L216.95,128.53 L218.53,129.64 L220.12,130.76 L221.70,131.88 L223.29,132.99 L224.87,134.10 L226.46,135.21 L228.04,136.31 L229.63,137.41 L231.21,138.49 L232.80,139.56 L234.38,140.63 L235.97,141.67 L237.55,142.70 L239.14,143.72 L240.72,144.71 L242.30,145.69 L243.89,146.64 L245.47,147.58 L247.06,148.50 L248.64,149.41 L250.23,150.30 L251.81,151.17 L253.40,152.03 L254.98,152.88 L256.57,153.71 L258.15,154.53 L259.74,155.34 L261.32,156.13 L262.91,156.92 L264.49,157.69 L266.07,158.45 L267.66,159.21 L269.24,159.95 L270.83,160.69 L272.41,161.41 L274.00,162.14 L275.58,162.85 L277.17,163.56 L278.75,164.26 L280.34,164.96 L281.92,165.66 L283.51,166.35 L285.09,167.04 L286.68,167.72 L288.26,168.41 L289.84,169.08 L291.43,169.76 L293.01,170.43 L294.60,171.09 L296.18,171.75 L297.77,172.40 L299.35,173.04 L300.94,173.67 L302.52,174.29 L304.11,174.90 L305.69,175.49 L307.28,176.07 L308.86,176.64 L310.44,177.19 L312.03,177.73 L313.61,178.26 L315.20,178.78 L316.78,179.28 L318.37,179.77 L319.95,180.25 L321.54,180.73 L323.12,181.19 L324.71,181.65 L326.29,182.09 L327.88,182.53 L329.46,182.97 L331.05,183.39 L332.63,183.81 L334.21,184.22 L335.80,184.63 L337.38,185.03 L338.97,185.42 L340.55,185.81 L342.14,186.19 L343.72,186.57 L345.31,186.94 L346.89,187.31 L348.48,187.67 L350.06,188.03 L351.65,188.38 L353.23,188.73 L354.82,189.09 L356.40,189.44" fill="none" stroke="#333" stroke-width="1.45" stroke-linejoin="round" stroke-linecap="round"/>
<path d="M56.90,164.99 L58.48,163.53 L60.07,162.08 L61.65,160.62 L63.24,159.16 L64.82,157.69 L66.41,156.22 L67.99,154.73 L69.58,153.24 L71.16,151.72 L72.75,150.19 L74.33,148.64 L75.92,147.04 L77.50,145.41 L79.09,143.71 L80.67,141.96 L82.25,140.13 L83.84,138.23 L85.42,136.26 L87.01,134.23 L88.59,132.15 L90.18,130.03 L91.76,127.90 L93.35,125.76 L94.93,123.61 L96.52,121.47 L98.10,119.33 L99.69,117.19 L101.27,115.06 L102.86,112.94 L104.44,110.84 L106.02,108.76 L107.61,106.71 L109.19,104.72 L110.78,102.79 L112.36,100.94 L113.95,99.19 L115.53,97.54 L117.12,96.00 L118.70,94.56 L120.29,93.21 L121.87,91.94 L123.46,90.76 L125.04,89.64 L126.62,88.59 L128.21,87.59 L129.79,86.64 L131.38,85.75 L132.96,84.90 L134.55,84.11 L136.13,83.36 L137.72,82.67 L139.30,82.03 L140.89,81.45 L142.47,80.92 L144.06,80.45 L145.64,80.04 L147.23,79.70 L148.81,79.43 L150.39,79.22 L151.98,79.09 L153.56,79.04 L155.15,79.07 L156.73,79.19 L158.32,79.39 L159.90,79.68 L161.49,80.05 L163.07,80.51 L164.66,81.06 L166.24,81.68 L167.83,82.37 L169.41,83.12 L171.00,83.92 L172.58,84.78 L174.16,85.67 L175.75,86.59 L177.33,87.53 L178.92,88.49 L180.50,89.47 L182.09,90.46 L183.67,91.46 L185.26,92.46 L186.84,93.47 L188.43,94.49 L190.01,95.52 L191.60,96.56 L193.18,97.61 L194.77,98.68 L196.35,99.77 L197.93,100.88 L199.52,102.01 L201.10,103.16 L202.69,104.34 L204.27,105.54 L205.86,106.77 L207.44,108.01 L209.03,109.28 L210.61,110.56 L212.20,111.86 L213.78,113.17 L215.37,114.48 L216.95,115.80 L218.53,117.12 L220.12,118.45 L221.70,119.77 L223.29,121.09 L224.87,122.41 L226.46,123.72 L228.04,125.03 L229.63,126.32 L231.21,127.61 L232.80,128.89 L234.38,130.14 L235.97,131.38 L237.55,132.60 L239.14,133.80 L240.72,134.98 L242.30,136.13 L243.89,137.26 L245.47,138.37 L247.06,139.46 L248.64,140.52 L250.23,141.57 L251.81,142.60 L253.40,143.61 L254.98,144.61 L256.57,145.59 L258.15,146.55 L259.74,147.50 L261.32,148.44 L262.91,149.37 L264.49,150.28 L266.07,151.18 L267.66,152.07 L269.24,152.95 L270.83,153.82 L272.41,154.68 L274.00,155.53 L275.58,156.37 L277.17,157.21 L278.75,158.04 L280.34,158.86 L281.92,159.68 L283.51,160.49 L285.09,161.30 L286.68,162.10 L288.26,162.90 L289.84,163.70 L291.43,164.48 L293.01,165.27 L294.60,166.04 L296.18,166.81 L297.77,167.57 L299.35,168.32 L300.94,169.05 L302.52,169.77 L304.11,170.48 L305.69,171.17 L307.28,171.84 L308.86,172.50 L310.44,173.14 L312.03,173.77 L313.61,174.39 L315.20,174.98 L316.78,175.57 L318.37,176.14 L319.95,176.70 L321.54,177.25 L323.12,177.79 L324.71,178.32 L326.29,178.84 L327.88,179.35 L329.46,179.86 L331.05,180.35 L332.63,180.84 L334.21,181.32 L335.80,181.79 L337.38,182.26 L338.97,182.72 L340.55,183.17 L342.14,183.62 L343.72,184.06 L345.31,184.49 L346.89,184.92 L348.48,185.34 L350.06,185.76 L351.65,186.17 L353.23,186.59 L354.82,187.00 L356.40,187.41" fill="none" stroke="#777" stroke-width="1.45" stroke-linejoin="round" stroke-linecap="round"/>
<path d="M56.90,164.82 L58.48,163.30 L60.07,161.78 L61.65,160.26 L63.24,158.74 L64.82,157.21 L66.41,155.68 L67.99,154.13 L69.58,152.57 L71.16,151.00 L72.75,149.41 L74.33,147.79 L75.92,146.14 L77.50,144.44 L79.09,142.68 L80.67,140.86 L82.25,138.96 L83.84,136.99 L85.42,134.94 L87.01,132.83 L88.59,130.66 L90.18,128.46 L91.76,126.22 L93.35,123.97 L94.93,121.70 L96.52,119.41 L98.10,117.12 L99.69,114.80 L101.27,112.47 L102.86,110.11 L104.44,107.72 L106.02,105.32 L107.61,102.92 L109.19,100.51 L110.78,98.13 L112.36,95.80 L113.95,93.53 L115.53,91.33 L117.12,89.24 L118.70,87.25 L120.29,85.36 L121.87,83.59 L123.46,81.93 L125.04,80.38 L126.62,78.93 L128.21,77.57 L129.79,76.31 L131.38,75.14 L132.96,74.05 L134.55,73.04 L136.13,72.11 L137.72,71.25 L139.30,70.46 L140.89,69.75 L142.47,69.11 L144.06,68.54 L145.64,68.05 L147.23,67.64 L148.81,67.31 L150.39,67.05 L151.98,66.89 L153.56,66.81 L155.15,66.83 L156.73,66.94 L158.32,67.15 L159.90,67.46 L161.49,67.86 L163.07,68.37 L164.66,68.96 L166.24,69.64 L167.83,70.39 L169.41,71.22 L171.00,72.10 L172.58,73.04 L174.16,74.01 L175.75,75.02 L177.33,76.06 L178.92,77.11 L180.50,78.18 L182.09,79.26 L183.67,80.35 L185.26,81.45 L186.84,82.55 L188.43,83.66 L190.01,84.78 L191.60,85.92 L193.18,87.06 L194.77,88.23 L196.35,89.42 L197.93,90.63 L199.52,91.87 L201.10,93.13 L202.69,94.43 L204.27,95.75 L205.86,97.10 L207.44,98.47 L209.03,99.87 L210.61,101.28 L212.20,102.72 L213.78,104.16 L215.37,105.61 L216.95,107.07 L218.53,108.54 L220.12,110.00 L221.70,111.47 L223.29,112.93 L224.87,114.39 L226.46,115.84 L228.04,117.29 L229.63,118.72 L231.21,120.15 L232.80,121.56 L234.38,122.95 L235.97,124.33 L237.55,125.68 L239.14,127.00 L240.72,128.30 L242.30,129.58 L243.89,130.83 L245.47,132.05 L247.06,133.25 L248.64,134.43 L250.23,135.59 L251.81,136.72 L253.40,137.84 L254.98,138.93 L256.57,140.02 L258.15,141.08 L259.74,142.13 L261.32,143.17 L262.91,144.19 L264.49,145.19 L266.07,146.19 L267.66,147.17 L269.24,148.14 L270.83,149.11 L272.41,150.06 L274.00,151.00 L275.58,151.93 L277.17,152.85 L278.75,153.76 L280.34,154.67 L281.92,155.57 L283.51,156.47 L285.09,157.36 L286.68,158.25 L288.26,159.12 L289.84,160.00 L291.43,160.87 L293.01,161.73 L294.60,162.58 L296.18,163.42 L297.77,164.25 L299.35,165.07 L300.94,165.88 L302.52,166.67 L304.11,167.44 L305.69,168.20 L307.28,168.94 L308.86,169.66 L310.44,170.37 L312.03,171.05 L313.61,171.73 L315.20,172.38 L316.78,173.02 L318.37,173.65 L319.95,174.27 L321.54,174.87 L323.12,175.46 L324.71,176.04 L326.29,176.61 L327.88,177.17 L329.46,177.72 L331.05,178.27 L332.63,178.80 L334.21,179.33 L335.80,179.85 L337.38,180.36 L338.97,180.86 L340.55,181.36 L342.14,181.85 L343.72,182.33 L345.31,182.81 L346.89,183.28 L348.48,183.74 L350.06,184.20 L351.65,184.66 L353.23,185.11 L354.82,185.57 L356.40,186.02" fill="none" stroke="#111" stroke-width="1.45" stroke-linejoin="round" stroke-linecap="round"/>
</g>
<line x1="56.3" y1="8" x2="357" y2="8" stroke="#777" stroke-width="1.6"/>
<line x1="356.4" y1="8" x2="356.4" y2="201.4" stroke="#444" stroke-width="1.2"/>
<line x1="56.9" y1="7.4" x2="56.9" y2="202" stroke="#404040" stroke-width="1.5"/>
<line x1="56.3" y1="201.4" x2="357" y2="201.4" stroke="#454545" stroke-width="1.2"/>
<line x1="54.4" y1="185.28" x2="56.9" y2="185.28" stroke="#383838" stroke-width="1"/>
<line x1="54.4" y1="153.05" x2="56.9" y2="153.05" stroke="#383838" stroke-width="1"/>
<line x1="54.4" y1="120.82" x2="56.9" y2="120.82" stroke="#383838" stroke-width="1"/>
<line x1="54.4" y1="88.58" x2="56.9" y2="88.58" stroke="#383838" stroke-width="1"/>
<line x1="54.4" y1="56.35" x2="56.9" y2="56.35" stroke="#383838" stroke-width="1"/>
<line x1="54.4" y1="24.12" x2="56.9" y2="24.12" stroke="#383838" stroke-width="1"/>
<line x1="52.1" y1="201.4" x2="56.9" y2="201.4" stroke="#383838" stroke-width="1"/>
<text transform="translate(44.19,203.37) scale(1.080,1)" font-family='"Liberation Sans", sans-serif' font-size="8.2" fill="#262626">0</text>
<line x1="52.1" y1="169.17" x2="56.9" y2="169.17" stroke="#383838" stroke-width="1"/>
<text transform="translate(39.28,171.14) scale(1.080,1)" font-family='"Liberation Sans", sans-serif' font-size="8.2" fill="#262626">50</text>
<line x1="52.1" y1="136.93" x2="56.9" y2="136.93" stroke="#383838" stroke-width="1"/>
<text transform="translate(34.36,138.9) scale(1.080,1)" font-family='"Liberation Sans", sans-serif' font-size="8.2" fill="#262626">100</text>
<line x1="52.1" y1="104.7" x2="56.9" y2="104.7" stroke="#383838" stroke-width="1"/>
<text transform="translate(34.36,106.67) scale(1.080,1)" font-family='"Liberation Sans", sans-serif' font-size="8.2" fill="#262626">150</text>
<line x1="52.1" y1="72.47" x2="56.9" y2="72.47" stroke="#383838" stroke-width="1"/>
<text transform="translate(34.36,74.44) scale(1.080,1)" font-family='"Liberation Sans", sans-serif' font-size="8.2" fill="#262626">200</text>
<line x1="52.1" y1="40.23" x2="56.9" y2="40.23" stroke="#383838" stroke-width="1"/>
<text transform="translate(34.36,42.2) scale(1.080,1)" font-family='"Liberation Sans", sans-serif' font-size="8.2" fill="#262626">250</text>
<line x1="52.1" y1="8" x2="56.9" y2="8" stroke="#383838" stroke-width="1"/>
<text transform="translate(34.36,9.97) scale(1.080,1)" font-family='"Liberation Sans", sans-serif' font-size="8.2" fill="#262626">300</text>
<line x1="80.54" y1="201.4" x2="80.54" y2="203.4" stroke="#383838" stroke-width="1"/>
<line x1="159.36" y1="201.4" x2="159.36" y2="203.4" stroke="#383838" stroke-width="1"/>
<line x1="238.18" y1="201.4" x2="238.18" y2="203.4" stroke="#383838" stroke-width="1"/>
<line x1="316.99" y1="201.4" x2="316.99" y2="203.4" stroke="#383838" stroke-width="1"/>
<line x1="119.95" y1="201.4" x2="119.95" y2="205.5" stroke="#383838" stroke-width="1"/>
<text transform="translate(112.56,213.6) scale(1.080,1)" font-family='"Liberation Sans", sans-serif' font-size="8.2" fill="#262626">500</text>
<line x1="198.77" y1="201.4" x2="198.77" y2="205.5" stroke="#383838" stroke-width="1"/>
<text transform="translate(191.37,213.6) scale(1.080,1)" font-family='"Liberation Sans", sans-serif' font-size="8.2" fill="#262626">550</text>
<line x1="277.58" y1="201.4" x2="277.58" y2="205.5" stroke="#383838" stroke-width="1"/>
<text transform="translate(270.15,213.6) scale(1.080,1)" font-family='"Liberation Sans", sans-serif' font-size="8.2" fill="#262626">600</text>
<line x1="356.4" y1="201.4" x2="356.4" y2="205.5" stroke="#383838" stroke-width="1"/>
<text transform="translate(348.96,213.6) scale(1.080,1)" font-family='"Liberation Sans", sans-serif' font-size="8.2" fill="#262626">650</text>
<text transform="translate(161.24,228.6) scale(1.194,1)" font-family='"Liberation Sans", sans-serif' font-size="9.3" fill="#262626">Wavelength/nm</text>
<text transform="translate(21.4,155.97) rotate(-90) scale(1.003,1)" font-family='"Liberation Sans", sans-serif' font-size="9.6" fill="#262626">Fluorescence intensity</text>
<text transform="translate(1.04,12.8) scale(1.203,1)" font-family='"Liberation Serif", serif' font-size="14" font-weight="bold" fill="#111">(A)</text>
<line x1="306.3" y1="16.5" x2="326.8" y2="16.5" stroke="#111" stroke-width="1.8"/>
<text transform="translate(328.64,19.4) scale(1.060,1)" font-family='"Liberation Sans", sans-serif' font-size="8.4" fill="#262626">0min</text>
<line x1="306.3" y1="26.08" x2="326.8" y2="26.08" stroke="#777" stroke-width="1.8"/>
<text transform="translate(328.33,28.98) scale(1.060,1)" font-family='"Liberation Sans", sans-serif' font-size="8.4" fill="#262626">1min</text>
<line x1="306.3" y1="35.66" x2="326.8" y2="35.66" stroke="#333" stroke-width="1.8"/>
<text transform="translate(328.55,38.56) scale(1.060,1)" font-family='"Liberation Sans", sans-serif' font-size="8.4" fill="#262626">2min</text>
<line x1="306.3" y1="45.24" x2="326.8" y2="45.24" stroke="#4a4a4a" stroke-width="1.8"/>
<text transform="translate(328.64,48.14) scale(1.060,1)" font-family='"Liberation Sans", sans-serif' font-size="8.4" fill="#262626">3min</text>
<line x1="306.3" y1="54.82" x2="326.8" y2="54.82" stroke="#c8c8c8" stroke-width="1.8"/>
<text transform="translate(328.82,57.72) scale(1.060,1)" font-family='"Liberation Sans", sans-serif' font-size="8.4" fill="#262626">4min</text>
<line x1="306.3" y1="64.4" x2="326.8" y2="64.4" stroke="#4a4a4a" stroke-width="1.8"/>
<text transform="translate(328.64,67.3) scale(1.060,1)" font-family='"Liberation Sans", sans-serif' font-size="8.4" fill="#262626">5min</text>
<line x1="306.3" y1="73.98" x2="326.8" y2="73.98" stroke="#2a2a2a" stroke-width="1.8"/>
<text transform="translate(328.55,76.88) scale(1.060,1)" font-family='"Liberation Sans", sans-serif' font-size="8.4" fill="#262626">6min</text>
<line x1="306.3" y1="83.56" x2="326.8" y2="83.56" stroke="#444" stroke-width="1.8"/>
<text transform="translate(328.55,86.46) scale(1.060,1)" font-family='"Liberation Sans", sans-serif' font-size="8.4" fill="#262626">7min</text>
<line x1="306.3" y1="93.14" x2="326.8" y2="93.14" stroke="#909090" stroke-width="1.8"/>
<text transform="translate(328.6,96.04) scale(1.060,1)" font-family='"Liberation Sans", sans-serif' font-size="8.4" fill="#262626">8min</text>
<line x1="306.3" y1="102.72" x2="326.8" y2="102.72" stroke="#333" stroke-width="1.8"/>
<text transform="translate(328.6,105.62) scale(1.060,1)" font-family='"Liberation Sans", sans-serif' font-size="8.4" fill="#262626">9min</text>
<line x1="306.3" y1="112.3" x2="326.8" y2="112.3" stroke="#383838" stroke-width="1.8"/>
<text transform="translate(328.33,115.2) scale(1.060,1)" font-family='"Liberation Sans", sans-serif' font-size="8.4" fill="#262626">10min</text>
<line x1="306.3" y1="121.88" x2="326.8" y2="121.88" stroke="#858585" stroke-width="1.8"/>
<text transform="translate(328.33,124.78) scale(1.060,1)" font-family='"Liberation Sans", sans-serif' font-size="8.4" fill="#262626">11min</text>
<line x1="306.3" y1="131.46" x2="326.8" y2="131.46" stroke="#777" stroke-width="1.8"/>
<text transform="translate(328.33,134.36) scale(1.060,1)" font-family='"Liberation Sans", sans-serif' font-size="8.4" fill="#262626">12min</text>
<line x1="306.3" y1="141.04" x2="326.8" y2="141.04" stroke="#777" stroke-width="1.8"/>
<text transform="translate(328.33,143.94) scale(1.060,1)" font-family='"Liberation Sans", sans-serif' font-size="8.4" fill="#262626">13min</text>
<line x1="306.3" y1="150.62" x2="326.8" y2="150.62" stroke="#111" stroke-width="1.8"/>
<text transform="translate(328.33,153.52) scale(1.060,1)" font-family='"Liberation Sans", sans-serif' font-size="8.4" fill="#262626">14min</text>
<line x1="306.3" y1="160.2" x2="326.8" y2="160.2" stroke="#888" stroke-width="1.8"/>
<text transform="translate(328.33,163.1) scale(1.060,1)" font-family='"Liberation Sans", sans-serif' font-size="8.4" fill="#262626">15min</text>
<line x1="437.1" y1="8.9" x2="722.9" y2="8.9" stroke="#7c7c7c" stroke-width="1.8"/>
<line x1="722.3" y1="8.9" x2="722.3" y2="193.5" stroke="#3a3a3a" stroke-width="1.4"/>
<line x1="437.7" y1="8.3" x2="437.7" y2="194.1" stroke="#2c2c2c" stroke-width="1.35"/>
<line x1="437.1" y1="193.5" x2="722.9" y2="193.5" stroke="#2c2c2c" stroke-width="1.2"/>
<line x1="435.2" y1="186.66" x2="437.7" y2="186.66" stroke="#383838" stroke-width="1"/>
<line x1="435.2" y1="172.99" x2="437.7" y2="172.99" stroke="#383838" stroke-width="1"/>
<line x1="435.2" y1="159.31" x2="437.7" y2="159.31" stroke="#383838" stroke-width="1"/>
<line x1="435.2" y1="145.64" x2="437.7" y2="145.64" stroke="#383838" stroke-width="1"/>
<line x1="435.2" y1="131.97" x2="437.7" y2="131.97" stroke="#383838" stroke-width="1"/>
<line x1="435.2" y1="118.29" x2="437.7" y2="118.29" stroke="#383838" stroke-width="1"/>
<line x1="435.2" y1="104.62" x2="437.7" y2="104.62" stroke="#383838" stroke-width="1"/>
<line x1="435.2" y1="90.94" x2="437.7" y2="90.94" stroke="#383838" stroke-width="1"/>
<line x1="435.2" y1="77.27" x2="437.7" y2="77.27" stroke="#383838" stroke-width="1"/>
<line x1="435.2" y1="63.6" x2="437.7" y2="63.6" stroke="#383838" stroke-width="1"/>
<line x1="435.2" y1="49.92" x2="437.7" y2="49.92" stroke="#383838" stroke-width="1"/>
<line x1="435.2" y1="36.25" x2="437.7" y2="36.25" stroke="#383838" stroke-width="1"/>
<line x1="435.2" y1="22.57" x2="437.7" y2="22.57" stroke="#383838" stroke-width="1"/>
<line x1="435.2" y1="8.9" x2="437.7" y2="8.9" stroke="#383838" stroke-width="1"/>
<line x1="432.9" y1="193.5" x2="437.7" y2="193.5" stroke="#383838" stroke-width="1"/>
<text transform="translate(425.51,195.5) scale(1.040,1)" font-family='"Liberation Sans", sans-serif' font-size="8.3" fill="#262626">0</text>
<line x1="432.9" y1="179.83" x2="437.7" y2="179.83" stroke="#383838" stroke-width="1"/>
<text transform="translate(420.72,181.83) scale(1.040,1)" font-family='"Liberation Sans", sans-serif' font-size="8.3" fill="#262626">20</text>
<line x1="432.9" y1="166.15" x2="437.7" y2="166.15" stroke="#383838" stroke-width="1"/>
<text transform="translate(420.72,168.16) scale(1.040,1)" font-family='"Liberation Sans", sans-serif' font-size="8.3" fill="#262626">40</text>
<line x1="432.9" y1="152.48" x2="437.7" y2="152.48" stroke="#383838" stroke-width="1"/>
<text transform="translate(420.72,154.48) scale(1.040,1)" font-family='"Liberation Sans", sans-serif' font-size="8.3" fill="#262626">60</text>
<line x1="432.9" y1="138.8" x2="437.7" y2="138.8" stroke="#383838" stroke-width="1"/>
<text transform="translate(420.72,140.81) scale(1.040,1)" font-family='"Liberation Sans", sans-serif' font-size="8.3" fill="#262626">80</text>
<line x1="432.9" y1="125.13" x2="437.7" y2="125.13" stroke="#383838" stroke-width="1"/>
<text transform="translate(415.93,127.13) scale(1.040,1)" font-family='"Liberation Sans", sans-serif' font-size="8.3" fill="#262626">100</text>
<line x1="432.9" y1="111.46" x2="437.7" y2="111.46" stroke="#383838" stroke-width="1"/>
<text transform="translate(415.93,113.46) scale(1.040,1)" font-family='"Liberation Sans", sans-serif' font-size="8.3" fill="#262626">120</text>
<line x1="432.9" y1="97.78" x2="437.7" y2="97.78" stroke="#383838" stroke-width="1"/>
<text transform="translate(415.93,99.79) scale(1.040,1)" font-family='"Liberation Sans", sans-serif' font-size="8.3" fill="#262626">140</text>
<line x1="432.9" y1="84.11" x2="437.7" y2="84.11" stroke="#383838" stroke-width="1"/>
<text transform="translate(415.93,86.11) scale(1.040,1)" font-family='"Liberation Sans", sans-serif' font-size="8.3" fill="#262626">160</text>
<line x1="432.9" y1="70.43" x2="437.7" y2="70.43" stroke="#383838" stroke-width="1"/>
<text transform="translate(415.93,72.44) scale(1.040,1)" font-family='"Liberation Sans", sans-serif' font-size="8.3" fill="#262626">180</text>
<line x1="432.9" y1="56.76" x2="437.7" y2="56.76" stroke="#383838" stroke-width="1"/>
<text transform="translate(415.93,58.76) scale(1.040,1)" font-family='"Liberation Sans", sans-serif' font-size="8.3" fill="#262626">200</text>
<line x1="432.9" y1="43.09" x2="437.7" y2="43.09" stroke="#383838" stroke-width="1"/>
<text transform="translate(415.93,45.09) scale(1.040,1)" font-family='"Liberation Sans", sans-serif' font-size="8.3" fill="#262626">220</text>
<line x1="432.9" y1="29.41" x2="437.7" y2="29.41" stroke="#383838" stroke-width="1"/>
<text transform="translate(415.93,31.42) scale(1.040,1)" font-family='"Liberation Sans", sans-serif' font-size="8.3" fill="#262626">240</text>
<line x1="432.9" y1="15.74" x2="437.7" y2="15.74" stroke="#383838" stroke-width="1"/>
<text transform="translate(415.93,17.74) scale(1.040,1)" font-family='"Liberation Sans", sans-serif' font-size="8.3" fill="#262626">260</text>
<line x1="454.44" y1="193.5" x2="454.44" y2="195.5" stroke="#383838" stroke-width="1"/>
<line x1="487.92" y1="193.5" x2="487.92" y2="195.5" stroke="#383838" stroke-width="1"/>
<line x1="521.41" y1="193.5" x2="521.41" y2="195.5" stroke="#383838" stroke-width="1"/>
<line x1="554.89" y1="193.5" x2="554.89" y2="195.5" stroke="#383838" stroke-width="1"/>
<line x1="588.37" y1="193.5" x2="588.37" y2="195.5" stroke="#383838" stroke-width="1"/>
<line x1="621.85" y1="193.5" x2="621.85" y2="195.5" stroke="#383838" stroke-width="1"/>
<line x1="655.34" y1="193.5" x2="655.34" y2="195.5" stroke="#383838" stroke-width="1"/>
<line x1="688.82" y1="193.5" x2="688.82" y2="195.5" stroke="#383838" stroke-width="1"/>
<line x1="722.3" y1="193.5" x2="722.3" y2="195.5" stroke="#383838" stroke-width="1"/>
<line x1="437.7" y1="193.5" x2="437.7" y2="197.6" stroke="#383838" stroke-width="1"/>
<text transform="translate(435.28,205.8) scale(1.040,1)" font-family='"Liberation Sans", sans-serif' font-size="8.3" fill="#262626">0</text>
<line x1="471.18" y1="193.5" x2="471.18" y2="197.6" stroke="#383838" stroke-width="1"/>
<text transform="translate(468.79,205.8) scale(1.040,1)" font-family='"Liberation Sans", sans-serif' font-size="8.3" fill="#262626">2</text>
<line x1="504.66" y1="193.5" x2="504.66" y2="197.6" stroke="#383838" stroke-width="1"/>
<text transform="translate(502.31,205.8) scale(1.040,1)" font-family='"Liberation Sans", sans-serif' font-size="8.3" fill="#262626">4</text>
<line x1="538.15" y1="193.5" x2="538.15" y2="197.6" stroke="#383838" stroke-width="1"/>
<text transform="translate(535.71,205.8) scale(1.040,1)" font-family='"Liberation Sans", sans-serif' font-size="8.3" fill="#262626">6</text>
<line x1="571.63" y1="193.5" x2="571.63" y2="197.6" stroke="#383838" stroke-width="1"/>
<text transform="translate(569.21,205.8) scale(1.040,1)" font-family='"Liberation Sans", sans-serif' font-size="8.3" fill="#262626">8</text>
<line x1="605.11" y1="193.5" x2="605.11" y2="197.6" stroke="#383838" stroke-width="1"/>
<text transform="translate(600.15,205.8) scale(1.040,1)" font-family='"Liberation Sans", sans-serif' font-size="8.3" fill="#262626">10</text>
<line x1="638.59" y1="193.5" x2="638.59" y2="197.6" stroke="#383838" stroke-width="1"/>
<text transform="translate(633.7,205.8) scale(1.040,1)" font-family='"Liberation Sans", sans-serif' font-size="8.3" fill="#262626">12</text>
<line x1="672.08" y1="193.5" x2="672.08" y2="197.6" stroke="#383838" stroke-width="1"/>
<text transform="translate(667.09,205.8) scale(1.040,1)" font-family='"Liberation Sans", sans-serif' font-size="8.3" fill="#262626">14</text>
<line x1="705.56" y1="193.5" x2="705.56" y2="197.6" stroke="#383838" stroke-width="1"/>
<text transform="translate(700.62,205.8) scale(1.040,1)" font-family='"Liberation Sans", sans-serif' font-size="8.3" fill="#262626">16</text>
<text transform="translate(558.58,220.8) scale(1.099,1)" font-family='"Liberation Sans", sans-serif' font-size="9.9" fill="#262626">Time/min</text>
<text transform="translate(408.2,154.35) rotate(-90) scale(0.953,1)" font-family='"Liberation Sans", sans-serif' font-size="9.8" fill="#262626">Fluorescence intensity</text>
<text transform="translate(383.54,11.1) scale(1.211,1)" font-family='"Liberation Serif", serif' font-size="14" font-weight="bold" fill="#111">(B)</text>
<line x1="605.11" y1="34" x2="605.11" y2="193.5" stroke="#4a4a4a" stroke-width="0.95" stroke-dasharray="1,1.6"/>
<line x1="608.3" y1="107.3" x2="628" y2="107.3" stroke="#222" stroke-width="0.9"/>
<path d="M633,107.3 L627.3,105.6 L627.3,109 Z" fill="#222"/>
<text transform="translate(636.89,109.3) scale(1.177,1)" font-family='"Liberation Sans", sans-serif' font-size="9.2" fill="#262626">10min</text>
<rect x="520.4" y="20.2" width="3.6" height="3.4" fill="#000"/>
<text transform="translate(537.19,25.5) scale(1.246,1)" font-family='"Liberation Sans", sans-serif' font-size="8.8" fill="#262626">probe</text>
<ellipse cx="586.4" cy="22.2" rx="2.1" ry="2.0" fill="#6a6a6a"/>
<text transform="translate(598.29,25.7) scale(1.247,1)" font-family='"Liberation Sans", sans-serif' font-size="8.8" fill="#262626">probe+HSO</text>
<text transform="translate(656.54,29.6) scale(1.125,1)" font-family='"Liberation Sans", sans-serif' font-size="5.8" fill="#262626">3</text>
<text transform="translate(659.27,21) scale(1.312,1)" font-family='"Liberation Sans", sans-serif' font-size="5.6" fill="#262626">-</text>
<rect x="452.64" y="48.27" width="3.6" height="3.3" fill="#000"/>
<rect x="469.38" y="48.27" width="3.6" height="3.3" fill="#000"/>
<rect x="486.12" y="48.27" width="3.6" height="3.3" fill="#000"/>
<rect x="502.86" y="48.27" width="3.6" height="3.3" fill="#000"/>
<rect x="519.61" y="48.27" width="3.6" height="3.3" fill="#000"/>
<rect x="536.35" y="48.27" width="3.6" height="3.3" fill="#000"/>
<rect x="553.09" y="48.27" width="3.6" height="3.3" fill="#000"/>
<rect x="569.83" y="48.27" width="3.6" height="3.3" fill="#000"/>
<rect x="586.57" y="48.27" width="3.6" height="3.3" fill="#000"/>
<rect x="603.31" y="48.27" width="3.6" height="3.3" fill="#000"/>
<rect x="620.05" y="48.27" width="3.6" height="3.3" fill="#000"/>
<rect x="636.79" y="48.27" width="3.6" height="3.3" fill="#000"/>
<rect x="653.54" y="48.27" width="3.6" height="3.3" fill="#000"/>
<rect x="670.28" y="48.27" width="3.6" height="3.3" fill="#000"/>
<rect x="687.02" y="48.27" width="3.6" height="3.3" fill="#000"/>
<ellipse cx="437.7" cy="49.92" rx="2.15" ry="2.1" fill="#5f5f5f"/>
<ellipse cx="454.44" cy="63.39" rx="2.15" ry="2.1" fill="#5f5f5f"/>
<ellipse cx="471.18" cy="82.53" rx="2.15" ry="2.1" fill="#5f5f5f"/>
<ellipse cx="487.92" cy="100.24" rx="2.15" ry="2.1" fill="#5f5f5f"/>
<ellipse cx="504.66" cy="110.43" rx="2.15" ry="2.1" fill="#5f5f5f"/>
<ellipse cx="521.41" cy="120.82" rx="2.15" ry="2.1" fill="#5f5f5f"/>
<ellipse cx="538.15" cy="129.1" rx="2.15" ry="2.1" fill="#5f5f5f"/>
<ellipse cx="554.89" cy="136.89" rx="2.15" ry="2.1" fill="#5f5f5f"/>
<ellipse cx="571.63" cy="144" rx="2.15" ry="2.1" fill="#5f5f5f"/>
<ellipse cx="588.37" cy="151.79" rx="2.15" ry="2.1" fill="#5f5f5f"/>
<ellipse cx="605.11" cy="152.75" rx="2.15" ry="2.1" fill="#5f5f5f"/>
<ellipse cx="621.85" cy="152.89" rx="2.15" ry="2.1" fill="#5f5f5f"/>
<ellipse cx="638.59" cy="152.89" rx="2.15" ry="2.1" fill="#5f5f5f"/>
<ellipse cx="655.34" cy="152.96" rx="2.15" ry="2.1" fill="#5f5f5f"/>
<ellipse cx="672.08" cy="153.16" rx="2.15" ry="2.1" fill="#5f5f5f"/>
<ellipse cx="688.82" cy="153.57" rx="2.15" ry="2.1" fill="#5f5f5f"/>
<clipPath id="clipC"><rect x="56.5" y="260.4" width="301.0" height="196.5"/></clipPath>
<g clip-path="url(#clipC)">
<path d="M56.50,434.51 L58.18,434.72 L59.86,434.92 L61.54,435.11 L63.23,435.29 L64.91,435.44 L66.59,435.57 L68.27,435.67 L69.95,435.73 L71.63,435.75 L73.32,435.74 L75.00,435.69 L76.68,435.61 L78.36,435.50 L80.04,435.37 L81.72,435.21 L83.41,435.03 L85.09,434.83 L86.77,434.61 L88.45,434.38 L90.13,434.13 L91.81,433.88 L93.49,433.61 L95.18,433.34 L96.86,433.06 L98.54,432.78 L100.22,432.50 L101.90,432.22 L103.58,431.96 L105.27,431.69 L106.95,431.44 L108.63,431.21 L110.31,430.99 L111.99,430.78 L113.67,430.60 L115.35,430.44 L117.04,430.31 L118.72,430.20 L120.40,430.12 L122.08,430.05 L123.76,430.01 L125.44,429.98 L127.13,429.96 L128.81,429.96 L130.49,429.96 L132.17,429.97 L133.85,429.99 L135.53,430.02 L137.22,430.06 L138.90,430.11 L140.58,430.17 L142.26,430.24 L143.94,430.33 L145.62,430.43 L147.30,430.53 L148.99,430.66 L150.67,430.79 L152.35,430.93 L154.03,431.08 L155.71,431.24 L157.39,431.40 L159.08,431.58 L160.76,431.77 L162.44,431.96 L164.12,432.16 L165.80,432.37 L167.48,432.59 L169.16,432.81 L170.85,433.04 L172.53,433.27 L174.21,433.51 L175.89,433.75 L177.57,433.99 L179.25,434.23 L180.94,434.47 L182.62,434.71 L184.30,434.95 L185.98,435.19 L187.66,435.43 L189.34,435.67 L191.03,435.91 L192.71,436.15 L194.39,436.40 L196.07,436.64 L197.75,436.88 L199.43,437.12 L201.11,437.37 L202.80,437.61 L204.48,437.86 L206.16,438.10 L207.84,438.35 L209.52,438.59 L211.20,438.84 L212.89,439.09 L214.57,439.33 L216.25,439.58 L217.93,439.83 L219.61,440.08 L221.29,440.33 L222.97,440.58 L224.66,440.83 L226.34,441.08 L228.02,441.34 L229.70,441.59 L231.38,441.85 L233.06,442.11 L234.75,442.36 L236.43,442.62 L238.11,442.88 L239.79,443.13 L241.47,443.38 L243.15,443.63 L244.84,443.88 L246.52,444.12 L248.20,444.35 L249.88,444.58 L251.56,444.80 L253.24,445.01 L254.92,445.22 L256.61,445.42 L258.29,445.62 L259.97,445.81 L261.65,445.99 L263.33,446.17 L265.01,446.35 L266.70,446.52 L268.38,446.69 L270.06,446.86 L271.74,447.03 L273.42,447.20 L275.10,447.37 L276.78,447.54 L278.47,447.71 L280.15,447.89 L281.83,448.06 L283.51,448.24 L285.19,448.42 L286.87,448.59 L288.56,448.77 L290.24,448.95 L291.92,449.12 L293.60,449.29 L295.28,449.45 L296.96,449.61 L298.65,449.77 L300.33,449.91 L302.01,450.05 L303.69,450.18 L305.37,450.30 L307.05,450.42 L308.73,450.52 L310.42,450.62 L312.10,450.72 L313.78,450.81 L315.46,450.89 L317.14,450.97 L318.82,451.05 L320.51,451.13 L322.19,451.20 L323.87,451.28 L325.55,451.35 L327.23,451.43 L328.91,451.51 L330.59,451.58 L332.28,451.66 L333.96,451.75 L335.64,451.83 L337.32,451.91 L339.00,452.00 L340.68,452.08 L342.37,452.17 L344.05,452.26 L345.73,452.34 L347.41,452.43 L349.09,452.52 L350.77,452.61 L352.46,452.70 L354.14,452.79 L355.82,452.88 L357.50,452.97" fill="none" stroke="#8a8a8a" stroke-width="1.6" stroke-linejoin="round" stroke-linecap="round"/>
<path d="M56.50,428.11 L58.18,428.47 L59.86,428.82 L61.54,429.15 L63.23,429.47 L64.91,429.77 L66.59,430.03 L68.27,430.25 L69.95,430.43 L71.63,430.57 L73.32,430.68 L75.00,430.75 L76.68,430.80 L78.36,430.82 L80.04,430.82 L81.72,430.81 L83.41,430.78 L85.09,430.73 L86.77,430.66 L88.45,430.59 L90.13,430.49 L91.81,430.38 L93.49,430.26 L95.18,430.13 L96.86,429.99 L98.54,429.84 L100.22,429.69 L101.90,429.55 L103.58,429.40 L105.27,429.26 L106.95,429.12 L108.63,429.00 L110.31,428.88 L111.99,428.77 L113.67,428.68 L115.35,428.60 L117.04,428.53 L118.72,428.48 L120.40,428.44 L122.08,428.42 L123.76,428.42 L125.44,428.42 L127.13,428.44 L128.81,428.47 L130.49,428.51 L132.17,428.56 L133.85,428.62 L135.53,428.70 L137.22,428.78 L138.90,428.89 L140.58,429.00 L142.26,429.13 L143.94,429.27 L145.62,429.42 L147.30,429.59 L148.99,429.76 L150.67,429.95 L152.35,430.14 L154.03,430.33 L155.71,430.53 L157.39,430.73 L159.08,430.94 L160.76,431.15 L162.44,431.36 L164.12,431.58 L165.80,431.79 L167.48,432.01 L169.16,432.23 L170.85,432.46 L172.53,432.68 L174.21,432.91 L175.89,433.14 L177.57,433.37 L179.25,433.60 L180.94,433.84 L182.62,434.07 L184.30,434.30 L185.98,434.54 L187.66,434.78 L189.34,435.02 L191.03,435.26 L192.71,435.50 L194.39,435.74 L196.07,435.98 L197.75,436.22 L199.43,436.47 L201.11,436.71 L202.80,436.95 L204.48,437.20 L206.16,437.45 L207.84,437.69 L209.52,437.94 L211.20,438.19 L212.89,438.43 L214.57,438.68 L216.25,438.93 L217.93,439.18 L219.61,439.42 L221.29,439.67 L222.97,439.92 L224.66,440.17 L226.34,440.42 L228.02,440.67 L229.70,440.92 L231.38,441.17 L233.06,441.42 L234.75,441.67 L236.43,441.92 L238.11,442.17 L239.79,442.42 L241.47,442.67 L243.15,442.92 L244.84,443.16 L246.52,443.41 L248.20,443.65 L249.88,443.90 L251.56,444.14 L253.24,444.38 L254.92,444.61 L256.61,444.85 L258.29,445.08 L259.97,445.31 L261.65,445.54 L263.33,445.77 L265.01,446.00 L266.70,446.22 L268.38,446.44 L270.06,446.65 L271.74,446.86 L273.42,447.07 L275.10,447.28 L276.78,447.48 L278.47,447.67 L280.15,447.86 L281.83,448.05 L283.51,448.24 L285.19,448.42 L286.87,448.59 L288.56,448.76 L290.24,448.93 L291.92,449.10 L293.60,449.26 L295.28,449.42 L296.96,449.58 L298.65,449.74 L300.33,449.89 L302.01,450.04 L303.69,450.18 L305.37,450.33 L307.05,450.47 L308.73,450.61 L310.42,450.74 L312.10,450.88 L313.78,451.01 L315.46,451.14 L317.14,451.27 L318.82,451.39 L320.51,451.52 L322.19,451.64 L323.87,451.75 L325.55,451.87 L327.23,451.98 L328.91,452.09 L330.59,452.20 L332.28,452.31 L333.96,452.41 L335.64,452.51 L337.32,452.61 L339.00,452.70 L340.68,452.80 L342.37,452.89 L344.05,452.98 L345.73,453.06 L347.41,453.15 L349.09,453.24 L350.77,453.32 L352.46,453.40 L354.14,453.49 L355.82,453.57 L357.50,453.65" fill="none" stroke="#3a3a3a" stroke-width="1.6" stroke-linejoin="round" stroke-linecap="round"/>
<path d="M56.50,429.12 L58.18,429.17 L59.86,429.23 L61.54,429.28 L63.23,429.31 L64.91,429.34 L66.59,429.34 L68.27,429.32 L69.95,429.26 L71.63,429.17 L73.32,429.05 L75.00,428.88 L76.68,428.67 L78.36,428.42 L80.04,428.13 L81.72,427.81 L83.41,427.45 L85.09,427.05 L86.77,426.63 L88.45,426.17 L90.13,425.69 L91.81,425.19 L93.49,424.68 L95.18,424.15 L96.86,423.63 L98.54,423.11 L100.22,422.60 L101.90,422.10 L103.58,421.63 L105.27,421.18 L106.95,420.75 L108.63,420.34 L110.31,419.96 L111.99,419.60 L113.67,419.26 L115.35,418.94 L117.04,418.64 L118.72,418.36 L120.40,418.11 L122.08,417.87 L123.76,417.66 L125.44,417.48 L127.13,417.33 L128.81,417.21 L130.49,417.13 L132.17,417.09 L133.85,417.08 L135.53,417.10 L137.22,417.16 L138.90,417.25 L140.58,417.37 L142.26,417.51 L143.94,417.68 L145.62,417.87 L147.30,418.08 L148.99,418.31 L150.67,418.56 L152.35,418.83 L154.03,419.13 L155.71,419.44 L157.39,419.77 L159.08,420.11 L160.76,420.47 L162.44,420.84 L164.12,421.22 L165.80,421.61 L167.48,422.01 L169.16,422.41 L170.85,422.81 L172.53,423.21 L174.21,423.61 L175.89,424.02 L177.57,424.42 L179.25,424.83 L180.94,425.24 L182.62,425.65 L184.30,426.06 L185.98,426.47 L187.66,426.89 L189.34,427.31 L191.03,427.73 L192.71,428.15 L194.39,428.57 L196.07,428.99 L197.75,429.41 L199.43,429.84 L201.11,430.26 L202.80,430.69 L204.48,431.12 L206.16,431.55 L207.84,431.98 L209.52,432.41 L211.20,432.84 L212.89,433.26 L214.57,433.69 L216.25,434.10 L217.93,434.51 L219.61,434.91 L221.29,435.30 L222.97,435.68 L224.66,436.05 L226.34,436.41 L228.02,436.75 L229.70,437.09 L231.38,437.41 L233.06,437.73 L234.75,438.03 L236.43,438.33 L238.11,438.63 L239.79,438.91 L241.47,439.19 L243.15,439.47 L244.84,439.75 L246.52,440.02 L248.20,440.29 L249.88,440.56 L251.56,440.84 L253.24,441.11 L254.92,441.38 L256.61,441.65 L258.29,441.92 L259.97,442.20 L261.65,442.47 L263.33,442.74 L265.01,443.01 L266.70,443.27 L268.38,443.54 L270.06,443.80 L271.74,444.05 L273.42,444.31 L275.10,444.56 L276.78,444.81 L278.47,445.05 L280.15,445.29 L281.83,445.52 L283.51,445.75 L285.19,445.98 L286.87,446.21 L288.56,446.43 L290.24,446.65 L291.92,446.86 L293.60,447.07 L295.28,447.27 L296.96,447.46 L298.65,447.65 L300.33,447.83 L302.01,448.01 L303.69,448.18 L305.37,448.34 L307.05,448.49 L308.73,448.64 L310.42,448.78 L312.10,448.91 L313.78,449.04 L315.46,449.17 L317.14,449.29 L318.82,449.41 L320.51,449.53 L322.19,449.64 L323.87,449.76 L325.55,449.88 L327.23,449.99 L328.91,450.11 L330.59,450.23 L332.28,450.35 L333.96,450.48 L335.64,450.60 L337.32,450.73 L339.00,450.85 L340.68,450.98 L342.37,451.11 L344.05,451.24 L345.73,451.38 L347.41,451.51 L349.09,451.64 L350.77,451.77 L352.46,451.91 L354.14,452.04 L355.82,452.18 L357.50,452.31" fill="none" stroke="#1a1a1a" stroke-width="1.6" stroke-linejoin="round" stroke-linecap="round"/>
<path d="M56.50,427.64 L58.18,427.31 L59.86,426.98 L61.54,426.65 L63.23,426.32 L64.91,425.97 L66.59,425.61 L68.27,425.24 L69.95,424.85 L71.63,424.45 L73.32,424.02 L75.00,423.58 L76.68,423.11 L78.36,422.63 L80.04,422.13 L81.72,421.61 L83.41,421.08 L85.09,420.55 L86.77,420.00 L88.45,419.45 L90.13,418.90 L91.81,418.35 L93.49,417.81 L95.18,417.26 L96.86,416.72 L98.54,416.18 L100.22,415.65 L101.90,415.12 L103.58,414.60 L105.27,414.09 L106.95,413.58 L108.63,413.08 L110.31,412.58 L111.99,412.10 L113.67,411.62 L115.35,411.15 L117.04,410.70 L118.72,410.25 L120.40,409.81 L122.08,409.39 L123.76,408.98 L125.44,408.58 L127.13,408.20 L128.81,407.83 L130.49,407.48 L132.17,407.14 L133.85,406.82 L135.53,406.53 L137.22,406.25 L138.90,405.99 L140.58,405.76 L142.26,405.54 L143.94,405.35 L145.62,405.17 L147.30,405.02 L148.99,404.88 L150.67,404.77 L152.35,404.68 L154.03,404.61 L155.71,404.57 L157.39,404.54 L159.08,404.53 L160.76,404.54 L162.44,404.57 L164.12,404.62 L165.80,404.68 L167.48,404.75 L169.16,404.83 L170.85,404.93 L172.53,405.03 L174.21,405.15 L175.89,405.28 L177.57,405.42 L179.25,405.58 L180.94,405.76 L182.62,405.95 L184.30,406.16 L185.98,406.39 L187.66,406.64 L189.34,406.91 L191.03,407.21 L192.71,407.51 L194.39,407.84 L196.07,408.17 L197.75,408.52 L199.43,408.88 L201.11,409.24 L202.80,409.62 L204.48,410.00 L206.16,410.38 L207.84,410.78 L209.52,411.17 L211.20,411.56 L212.89,411.95 L214.57,412.34 L216.25,412.72 L217.93,413.09 L219.61,413.45 L221.29,413.79 L222.97,414.12 L224.66,414.43 L226.34,414.72 L228.02,414.99 L229.70,415.25 L231.38,415.50 L233.06,415.73 L234.75,415.97 L236.43,416.20 L238.11,416.44 L239.79,416.69 L241.47,416.96 L243.15,417.24 L244.84,417.56 L246.52,417.90 L248.20,418.27 L249.88,418.66 L251.56,419.08 L253.24,419.52 L254.92,419.98 L256.61,420.44 L258.29,420.90 L259.97,421.36 L261.65,421.82 L263.33,422.26 L265.01,422.70 L266.70,423.12 L268.38,423.54 L270.06,423.94 L271.74,424.33 L273.42,424.72 L275.10,425.09 L276.78,425.46 L278.47,425.82 L280.15,426.18 L281.83,426.52 L283.51,426.87 L285.19,427.20 L286.87,427.53 L288.56,427.86 L290.24,428.18 L291.92,428.50 L293.60,428.81 L295.28,429.12 L296.96,429.43 L298.65,429.73 L300.33,430.03 L302.01,430.33 L303.69,430.62 L305.37,430.91 L307.05,431.21 L308.73,431.51 L310.42,431.81 L312.10,432.13 L313.78,432.45 L315.46,432.80 L317.14,433.16 L318.82,433.54 L320.51,433.94 L322.19,434.36 L323.87,434.81 L325.55,435.27 L327.23,435.75 L328.91,436.25 L330.59,436.75 L332.28,437.26 L333.96,437.77 L335.64,438.27 L337.32,438.77 L339.00,439.26 L340.68,439.73 L342.37,440.19 L344.05,440.64 L345.73,441.08 L347.41,441.51 L349.09,441.92 L350.77,442.33 L352.46,442.74 L354.14,443.14 L355.82,443.53 L357.50,443.93" fill="none" stroke="#4a4a4a" stroke-width="1.6" stroke-linejoin="round" stroke-linecap="round"/>
<path d="M56.50,416.27 L58.18,415.34 L59.86,414.40 L61.54,413.47 L63.23,412.53 L64.91,411.60 L66.59,410.66 L68.27,409.73 L69.95,408.80 L71.63,407.86 L73.32,406.93 L75.00,406.00 L76.68,405.06 L78.36,404.13 L80.04,403.19 L81.72,402.26 L83.41,401.33 L85.09,400.39 L86.77,399.46 L88.45,398.54 L90.13,397.62 L91.81,396.71 L93.49,395.82 L95.18,394.94 L96.86,394.10 L98.54,393.29 L100.22,392.52 L101.90,391.80 L103.58,391.13 L105.27,390.50 L106.95,389.93 L108.63,389.40 L110.31,388.91 L111.99,388.46 L113.67,388.04 L115.35,387.65 L117.04,387.28 L118.72,386.93 L120.40,386.60 L122.08,386.27 L123.76,385.96 L125.44,385.66 L127.13,385.36 L128.81,385.08 L130.49,384.81 L132.17,384.55 L133.85,384.31 L135.53,384.09 L137.22,383.88 L138.90,383.70 L140.58,383.53 L142.26,383.39 L143.94,383.26 L145.62,383.15 L147.30,383.06 L148.99,382.99 L150.67,382.94 L152.35,382.91 L154.03,382.90 L155.71,382.92 L157.39,382.96 L159.08,383.03 L160.76,383.14 L162.44,383.28 L164.12,383.45 L165.80,383.65 L167.48,383.88 L169.16,384.14 L170.85,384.42 L172.53,384.74 L174.21,385.07 L175.89,385.42 L177.57,385.80 L179.25,386.19 L180.94,386.61 L182.62,387.04 L184.30,387.50 L185.98,387.98 L187.66,388.48 L189.34,389.00 L191.03,389.54 L192.71,390.08 L194.39,390.64 L196.07,391.21 L197.75,391.77 L199.43,392.34 L201.11,392.91 L202.80,393.47 L204.48,394.04 L206.16,394.60 L207.84,395.15 L209.52,395.71 L211.20,396.25 L212.89,396.80 L214.57,397.33 L216.25,397.86 L217.93,398.39 L219.61,398.90 L221.29,399.40 L222.97,399.89 L224.66,400.37 L226.34,400.83 L228.02,401.28 L229.70,401.72 L231.38,402.14 L233.06,402.55 L234.75,402.95 L236.43,403.34 L238.11,403.72 L239.79,404.10 L241.47,404.47 L243.15,404.84 L244.84,405.21 L246.52,405.58 L248.20,405.95 L249.88,406.33 L251.56,406.71 L253.24,407.09 L254.92,407.48 L256.61,407.87 L258.29,408.26 L259.97,408.65 L261.65,409.05 L263.33,409.45 L265.01,409.85 L266.70,410.26 L268.38,410.68 L270.06,411.10 L271.74,411.52 L273.42,411.96 L275.10,412.41 L276.78,412.88 L278.47,413.35 L280.15,413.84 L281.83,414.35 L283.51,414.86 L285.19,415.39 L286.87,415.93 L288.56,416.47 L290.24,417.02 L291.92,417.56 L293.60,418.10 L295.28,418.62 L296.96,419.14 L298.65,419.64 L300.33,420.13 L302.01,420.60 L303.69,421.05 L305.37,421.49 L307.05,421.93 L308.73,422.35 L310.42,422.77 L312.10,423.20 L313.78,423.62 L315.46,424.06 L317.14,424.51 L318.82,424.97 L320.51,425.45 L322.19,425.95 L323.87,426.46 L325.55,426.98 L327.23,427.52 L328.91,428.07 L330.59,428.62 L332.28,429.18 L333.96,429.73 L335.64,430.28 L337.32,430.83 L339.00,431.37 L340.68,431.89 L342.37,432.41 L344.05,432.92 L345.73,433.41 L347.41,433.90 L349.09,434.38 L350.77,434.85 L352.46,435.32 L354.14,435.78 L355.82,436.24 L357.50,436.71" fill="none" stroke="#c4c4c4" stroke-width="1.6" stroke-linejoin="round" stroke-linecap="round"/>
<path d="M56.50,415.73 L58.18,414.62 L59.86,413.51 L61.54,412.40 L63.23,411.29 L64.91,410.17 L66.59,409.04 L68.27,407.92 L69.95,406.78 L71.63,405.63 L73.32,404.48 L75.00,403.32 L76.68,402.15 L78.36,400.96 L80.04,399.77 L81.72,398.58 L83.41,397.37 L85.09,396.16 L86.77,394.94 L88.45,393.71 L90.13,392.49 L91.81,391.26 L93.49,390.04 L95.18,388.83 L96.86,387.63 L98.54,386.44 L100.22,385.28 L101.90,384.15 L103.58,383.04 L105.27,381.97 L106.95,380.93 L108.63,379.94 L110.31,378.99 L111.99,378.08 L113.67,377.22 L115.35,376.42 L117.04,375.67 L118.72,374.97 L120.40,374.33 L122.08,373.75 L123.76,373.22 L125.44,372.73 L127.13,372.30 L128.81,371.91 L130.49,371.57 L132.17,371.27 L133.85,371.02 L135.53,370.82 L137.22,370.67 L138.90,370.56 L140.58,370.50 L142.26,370.48 L143.94,370.50 L145.62,370.56 L147.30,370.65 L148.99,370.78 L150.67,370.93 L152.35,371.11 L154.03,371.33 L155.71,371.57 L157.39,371.85 L159.08,372.16 L160.76,372.50 L162.44,372.89 L164.12,373.31 L165.80,373.77 L167.48,374.27 L169.16,374.81 L170.85,375.38 L172.53,375.99 L174.21,376.64 L175.89,377.33 L177.57,378.05 L179.25,378.81 L180.94,379.60 L182.62,380.43 L184.30,381.29 L185.98,382.16 L187.66,383.06 L189.34,383.96 L191.03,384.86 L192.71,385.76 L194.39,386.64 L196.07,387.50 L197.75,388.34 L199.43,389.15 L201.11,389.93 L202.80,390.68 L204.48,391.40 L206.16,392.09 L207.84,392.76 L209.52,393.41 L211.20,394.04 L212.89,394.66 L214.57,395.28 L216.25,395.89 L217.93,396.51 L219.61,397.13 L221.29,397.76 L222.97,398.41 L224.66,399.07 L226.34,399.76 L228.02,400.47 L229.70,401.20 L231.38,401.96 L233.06,402.74 L234.75,403.54 L236.43,404.36 L238.11,405.19 L239.79,406.03 L241.47,406.89 L243.15,407.74 L244.84,408.59 L246.52,409.45 L248.20,410.29 L249.88,411.13 L251.56,411.97 L253.24,412.79 L254.92,413.61 L256.61,414.41 L258.29,415.21 L259.97,416.00 L261.65,416.78 L263.33,417.54 L265.01,418.30 L266.70,419.04 L268.38,419.76 L270.06,420.46 L271.74,421.14 L273.42,421.79 L275.10,422.42 L276.78,423.01 L278.47,423.58 L280.15,424.11 L281.83,424.61 L283.51,425.08 L285.19,425.52 L286.87,425.94 L288.56,426.34 L290.24,426.72 L291.92,427.08 L293.60,427.44 L295.28,427.78 L296.96,428.11 L298.65,428.44 L300.33,428.76 L302.01,429.08 L303.69,429.40 L305.37,429.72 L307.05,430.04 L308.73,430.36 L310.42,430.69 L312.10,431.03 L313.78,431.38 L315.46,431.75 L317.14,432.14 L318.82,432.55 L320.51,432.98 L322.19,433.43 L323.87,433.91 L325.55,434.40 L327.23,434.91 L328.91,435.43 L330.59,435.96 L332.28,436.50 L333.96,437.03 L335.64,437.55 L337.32,438.07 L339.00,438.57 L340.68,439.06 L342.37,439.54 L344.05,440.00 L345.73,440.44 L347.41,440.87 L349.09,441.29 L350.77,441.70 L352.46,442.11 L354.14,442.51 L355.82,442.90 L357.50,443.30" fill="none" stroke="#555" stroke-width="1.6" stroke-linejoin="round" stroke-linecap="round"/>
<path d="M56.50,414.82 L58.18,413.66 L59.86,412.49 L61.54,411.31 L63.23,410.13 L64.91,408.92 L66.59,407.68 L68.27,406.42 L69.95,405.12 L71.63,403.78 L73.32,402.40 L75.00,400.98 L76.68,399.54 L78.36,398.06 L80.04,396.57 L81.72,395.08 L83.41,393.58 L85.09,392.11 L86.77,390.66 L88.45,389.24 L90.13,387.85 L91.81,386.51 L93.49,385.20 L95.18,383.92 L96.86,382.68 L98.54,381.46 L100.22,380.28 L101.90,379.11 L103.58,377.96 L105.27,376.83 L106.95,375.72 L108.63,374.63 L110.31,373.56 L111.99,372.52 L113.67,371.50 L115.35,370.52 L117.04,369.57 L118.72,368.67 L120.40,367.80 L122.08,366.99 L123.76,366.22 L125.44,365.49 L127.13,364.82 L128.81,364.20 L130.49,363.64 L132.17,363.14 L133.85,362.71 L135.53,362.36 L137.22,362.07 L138.90,361.86 L140.58,361.72 L142.26,361.65 L143.94,361.64 L145.62,361.69 L147.30,361.79 L148.99,361.94 L150.67,362.15 L152.35,362.40 L154.03,362.71 L155.71,363.06 L157.39,363.48 L159.08,363.95 L160.76,364.48 L162.44,365.08 L164.12,365.73 L165.80,366.45 L167.48,367.21 L169.16,368.02 L170.85,368.87 L172.53,369.75 L174.21,370.67 L175.89,371.61 L177.57,372.58 L179.25,373.57 L180.94,374.58 L182.62,375.60 L184.30,376.63 L185.98,377.68 L187.66,378.72 L189.34,379.76 L191.03,380.78 L192.71,381.79 L194.39,382.78 L196.07,383.73 L197.75,384.65 L199.43,385.54 L201.11,386.39 L202.80,387.21 L204.48,387.99 L206.16,388.74 L207.84,389.46 L209.52,390.16 L211.20,390.83 L212.89,391.49 L214.57,392.14 L216.25,392.78 L217.93,393.41 L219.61,394.03 L221.29,394.65 L222.97,395.28 L224.66,395.91 L226.34,396.54 L228.02,397.17 L229.70,397.82 L231.38,398.47 L233.06,399.13 L234.75,399.79 L236.43,400.47 L238.11,401.15 L239.79,401.84 L241.47,402.55 L243.15,403.26 L244.84,403.98 L246.52,404.71 L248.20,405.45 L249.88,406.20 L251.56,406.95 L253.24,407.69 L254.92,408.43 L256.61,409.16 L258.29,409.88 L259.97,410.58 L261.65,411.26 L263.33,411.92 L265.01,412.56 L266.70,413.19 L268.38,413.80 L270.06,414.39 L271.74,414.97 L273.42,415.54 L275.10,416.09 L276.78,416.63 L278.47,417.17 L280.15,417.70 L281.83,418.21 L283.51,418.73 L285.19,419.23 L286.87,419.73 L288.56,420.22 L290.24,420.71 L291.92,421.19 L293.60,421.67 L295.28,422.14 L296.96,422.60 L298.65,423.06 L300.33,423.52 L302.01,423.97 L303.69,424.42 L305.37,424.86 L307.05,425.31 L308.73,425.75 L310.42,426.20 L312.10,426.64 L313.78,427.10 L315.46,427.55 L317.14,428.02 L318.82,428.49 L320.51,428.97 L322.19,429.46 L323.87,429.96 L325.55,430.46 L327.23,430.98 L328.91,431.50 L330.59,432.03 L332.28,432.56 L333.96,433.09 L335.64,433.62 L337.32,434.16 L339.00,434.69 L340.68,435.23 L342.37,435.76 L344.05,436.30 L345.73,436.83 L347.41,437.36 L349.09,437.89 L350.77,438.42 L352.46,438.95 L354.14,439.48 L355.82,440.01 L357.50,440.53" fill="none" stroke="#2e2e2e" stroke-width="1.6" stroke-linejoin="round" stroke-linecap="round"/>
<path d="M56.50,411.05 L58.18,409.40 L59.86,407.75 L61.54,406.10 L63.23,404.45 L64.91,402.80 L66.59,401.16 L68.27,399.50 L69.95,397.85 L71.63,396.20 L73.32,394.54 L75.00,392.87 L76.68,391.18 L78.36,389.48 L80.04,387.76 L81.72,386.01 L83.41,384.22 L85.09,382.40 L86.77,380.53 L88.45,378.62 L90.13,376.67 L91.81,374.69 L93.49,372.68 L95.18,370.66 L96.86,368.65 L98.54,366.66 L100.22,364.71 L101.90,362.82 L103.58,360.99 L105.27,359.24 L106.95,357.57 L108.63,355.97 L110.31,354.47 L111.99,353.04 L113.67,351.70 L115.35,350.44 L117.04,349.26 L118.72,348.15 L120.40,347.12 L122.08,346.16 L123.76,345.27 L125.44,344.44 L127.13,343.67 L128.81,342.96 L130.49,342.30 L132.17,341.71 L133.85,341.18 L135.53,340.72 L137.22,340.32 L138.90,340.00 L140.58,339.76 L142.26,339.58 L143.94,339.49 L145.62,339.46 L147.30,339.50 L148.99,339.59 L150.67,339.75 L152.35,339.95 L154.03,340.21 L155.71,340.51 L157.39,340.85 L159.08,341.23 L160.76,341.66 L162.44,342.13 L164.12,342.65 L165.80,343.23 L167.48,343.87 L169.16,344.57 L170.85,345.33 L172.53,346.16 L174.21,347.06 L175.89,348.01 L177.57,349.01 L179.25,350.06 L180.94,351.16 L182.62,352.30 L184.30,353.47 L185.98,354.67 L187.66,355.90 L189.34,357.16 L191.03,358.44 L192.71,359.74 L194.39,361.05 L196.07,362.38 L197.75,363.72 L199.43,365.06 L201.11,366.41 L202.80,367.76 L204.48,369.11 L206.16,370.46 L207.84,371.80 L209.52,373.14 L211.20,374.48 L212.89,375.81 L214.57,377.13 L216.25,378.45 L217.93,379.75 L219.61,381.05 L221.29,382.33 L222.97,383.59 L224.66,384.84 L226.34,386.07 L228.02,387.28 L229.70,388.47 L231.38,389.65 L233.06,390.81 L234.75,391.95 L236.43,393.07 L238.11,394.17 L239.79,395.27 L241.47,396.34 L243.15,397.40 L244.84,398.45 L246.52,399.49 L248.20,400.50 L249.88,401.50 L251.56,402.48 L253.24,403.43 L254.92,404.36 L256.61,405.26 L258.29,406.12 L259.97,406.96 L261.65,407.76 L263.33,408.53 L265.01,409.27 L266.70,409.99 L268.38,410.68 L270.06,411.35 L271.74,412.01 L273.42,412.65 L275.10,413.28 L276.78,413.91 L278.47,414.53 L280.15,415.15 L281.83,415.76 L283.51,416.37 L285.19,416.98 L286.87,417.58 L288.56,418.19 L290.24,418.78 L291.92,419.37 L293.60,419.95 L295.28,420.53 L296.96,421.09 L298.65,421.65 L300.33,422.20 L302.01,422.73 L303.69,423.26 L305.37,423.78 L307.05,424.29 L308.73,424.80 L310.42,425.30 L312.10,425.80 L313.78,426.30 L315.46,426.80 L317.14,427.30 L318.82,427.80 L320.51,428.31 L322.19,428.82 L323.87,429.33 L325.55,429.85 L327.23,430.37 L328.91,430.89 L330.59,431.42 L332.28,431.95 L333.96,432.47 L335.64,433.00 L337.32,433.53 L339.00,434.06 L340.68,434.59 L342.37,435.12 L344.05,435.65 L345.73,436.18 L347.41,436.71 L349.09,437.23 L350.77,437.76 L352.46,438.29 L354.14,438.82 L355.82,439.35 L357.50,439.87" fill="none" stroke="#7a7a7a" stroke-width="1.6" stroke-linejoin="round" stroke-linecap="round"/>
<path d="M56.50,406.12 L58.18,404.20 L59.86,402.27 L61.54,400.36 L63.23,398.45 L64.91,396.54 L66.59,394.64 L68.27,392.73 L69.95,390.81 L71.63,388.87 L73.32,386.89 L75.00,384.88 L76.68,382.82 L78.36,380.71 L80.04,378.54 L81.72,376.30 L83.41,374.01 L85.09,371.66 L86.77,369.24 L88.45,366.78 L90.13,364.27 L91.81,361.72 L93.49,359.14 L95.18,356.55 L96.86,353.97 L98.54,351.41 L100.22,348.90 L101.90,346.46 L103.58,344.12 L105.27,341.89 L106.95,339.79 L108.63,337.82 L110.31,335.98 L111.99,334.27 L113.67,332.69 L115.35,331.23 L117.04,329.89 L118.72,328.65 L120.40,327.51 L122.08,326.47 L123.76,325.51 L125.44,324.64 L127.13,323.85 L128.81,323.13 L130.49,322.49 L132.17,321.91 L133.85,321.41 L135.53,320.98 L137.22,320.62 L138.90,320.34 L140.58,320.13 L142.26,319.99 L143.94,319.93 L145.62,319.95 L147.30,320.05 L148.99,320.23 L150.67,320.48 L152.35,320.81 L154.03,321.21 L155.71,321.69 L157.39,322.24 L159.08,322.87 L160.76,323.58 L162.44,324.36 L164.12,325.21 L165.80,326.13 L167.48,327.11 L169.16,328.14 L170.85,329.23 L172.53,330.35 L174.21,331.52 L175.89,332.73 L177.57,333.97 L179.25,335.25 L180.94,336.56 L182.62,337.89 L184.30,339.25 L185.98,340.63 L187.66,342.02 L189.34,343.44 L191.03,344.86 L192.71,346.29 L194.39,347.74 L196.07,349.19 L197.75,350.64 L199.43,352.09 L201.11,353.54 L202.80,354.99 L204.48,356.43 L206.16,357.85 L207.84,359.27 L209.52,360.68 L211.20,362.08 L212.89,363.47 L214.57,364.85 L216.25,366.22 L217.93,367.59 L219.61,368.95 L221.29,370.31 L222.97,371.66 L224.66,373.02 L226.34,374.37 L228.02,375.72 L229.70,377.08 L231.38,378.43 L233.06,379.78 L234.75,381.13 L236.43,382.48 L238.11,383.82 L239.79,385.15 L241.47,386.47 L243.15,387.78 L244.84,389.07 L246.52,390.34 L248.20,391.59 L249.88,392.82 L251.56,394.02 L253.24,395.19 L254.92,396.33 L256.61,397.44 L258.29,398.52 L259.97,399.58 L261.65,400.62 L263.33,401.63 L265.01,402.63 L266.70,403.62 L268.38,404.59 L270.06,405.55 L271.74,406.49 L273.42,407.43 L275.10,408.35 L276.78,409.26 L278.47,410.15 L280.15,411.03 L281.83,411.89 L283.51,412.74 L285.19,413.56 L286.87,414.36 L288.56,415.15 L290.24,415.91 L291.92,416.65 L293.60,417.36 L295.28,418.05 L296.96,418.72 L298.65,419.35 L300.33,419.96 L302.01,420.55 L303.69,421.11 L305.37,421.65 L307.05,422.17 L308.73,422.68 L310.42,423.18 L312.10,423.68 L313.78,424.17 L315.46,424.67 L317.14,425.18 L318.82,425.70 L320.51,426.23 L322.19,426.77 L323.87,427.32 L325.55,427.88 L327.23,428.46 L328.91,429.04 L330.59,429.64 L332.28,430.23 L333.96,430.83 L335.64,431.44 L337.32,432.04 L339.00,432.65 L340.68,433.25 L342.37,433.85 L344.05,434.46 L345.73,435.06 L347.41,435.65 L349.09,436.25 L350.77,436.85 L352.46,437.44 L354.14,438.04 L355.82,438.63 L357.50,439.23" fill="none" stroke="#111" stroke-width="1.8" stroke-linejoin="round" stroke-linecap="round"/>
</g>
<line x1="55.9" y1="260.4" x2="358.1" y2="260.4" stroke="#4a4a4a" stroke-width="1.3"/>
<line x1="357.5" y1="260.4" x2="357.5" y2="456.9" stroke="#4a4a4a" stroke-width="1.35"/>
<line x1="56.5" y1="259.8" x2="56.5" y2="457.5" stroke="#3a3a3a" stroke-width="1.3"/>
<line x1="55.9" y1="456.9" x2="358.1" y2="456.9" stroke="#6a6a6a" stroke-width="1.7"/>
<line x1="54" y1="440.52" x2="56.5" y2="440.52" stroke="#383838" stroke-width="1"/>
<line x1="54" y1="407.77" x2="56.5" y2="407.77" stroke="#383838" stroke-width="1"/>
<line x1="54" y1="375.02" x2="56.5" y2="375.02" stroke="#383838" stroke-width="1"/>
<line x1="54" y1="342.27" x2="56.5" y2="342.27" stroke="#383838" stroke-width="1"/>
<line x1="54" y1="309.52" x2="56.5" y2="309.52" stroke="#383838" stroke-width="1"/>
<line x1="54" y1="276.77" x2="56.5" y2="276.77" stroke="#383838" stroke-width="1"/>
<line x1="51.7" y1="456.9" x2="56.5" y2="456.9" stroke="#383838" stroke-width="1"/>
<text transform="translate(43.79,458.87) scale(1.080,1)" font-family='"Liberation Sans", sans-serif' font-size="8.2" fill="#262626">0</text>
<line x1="51.7" y1="424.15" x2="56.5" y2="424.15" stroke="#383838" stroke-width="1"/>
<text transform="translate(38.88,426.12) scale(1.080,1)" font-family='"Liberation Sans", sans-serif' font-size="8.2" fill="#262626">50</text>
<line x1="51.7" y1="391.4" x2="56.5" y2="391.4" stroke="#383838" stroke-width="1"/>
<text transform="translate(33.96,393.37) scale(1.080,1)" font-family='"Liberation Sans", sans-serif' font-size="8.2" fill="#262626">100</text>
<line x1="51.7" y1="358.65" x2="56.5" y2="358.65" stroke="#383838" stroke-width="1"/>
<text transform="translate(33.96,360.62) scale(1.080,1)" font-family='"Liberation Sans", sans-serif' font-size="8.2" fill="#262626">150</text>
<line x1="51.7" y1="325.9" x2="56.5" y2="325.9" stroke="#383838" stroke-width="1"/>
<text transform="translate(33.96,327.87) scale(1.080,1)" font-family='"Liberation Sans", sans-serif' font-size="8.2" fill="#262626">200</text>
<line x1="51.7" y1="293.15" x2="56.5" y2="293.15" stroke="#383838" stroke-width="1"/>
<text transform="translate(33.96,295.12) scale(1.080,1)" font-family='"Liberation Sans", sans-serif' font-size="8.2" fill="#262626">250</text>
<line x1="51.7" y1="260.4" x2="56.5" y2="260.4" stroke="#383838" stroke-width="1"/>
<text transform="translate(33.96,262.37) scale(1.080,1)" font-family='"Liberation Sans", sans-serif' font-size="8.2" fill="#262626">300</text>
<line x1="64.86" y1="456.9" x2="64.86" y2="458.9" stroke="#383838" stroke-width="1"/>
<line x1="148.47" y1="456.9" x2="148.47" y2="458.9" stroke="#383838" stroke-width="1"/>
<line x1="232.08" y1="456.9" x2="232.08" y2="458.9" stroke="#383838" stroke-width="1"/>
<line x1="315.69" y1="456.9" x2="315.69" y2="458.9" stroke="#383838" stroke-width="1"/>
<line x1="106.67" y1="456.9" x2="106.67" y2="461" stroke="#383838" stroke-width="1"/>
<text transform="translate(99.27,469.8) scale(1.080,1)" font-family='"Liberation Sans", sans-serif' font-size="8.2" fill="#262626">500</text>
<line x1="190.28" y1="456.9" x2="190.28" y2="461" stroke="#383838" stroke-width="1"/>
<text transform="translate(182.88,469.8) scale(1.080,1)" font-family='"Liberation Sans", sans-serif' font-size="8.2" fill="#262626">550</text>
<line x1="273.89" y1="456.9" x2="273.89" y2="461" stroke="#383838" stroke-width="1"/>
<text transform="translate(266.45,469.8) scale(1.080,1)" font-family='"Liberation Sans", sans-serif' font-size="8.2" fill="#262626">600</text>
<line x1="357.5" y1="456.9" x2="357.5" y2="461" stroke="#383838" stroke-width="1"/>
<text transform="translate(350.06,469.8) scale(1.080,1)" font-family='"Liberation Sans", sans-serif' font-size="8.2" fill="#262626">650</text>
<text transform="translate(152.34,483.8) scale(1.206,1)" font-family='"Liberation Sans", sans-serif' font-size="9.3" fill="#262626">Wavelength/nm</text>
<text transform="translate(21.8,407.79) rotate(-90) scale(1.003,1)" font-family='"Liberation Sans", sans-serif' font-size="9.8" fill="#262626">Fluorescence intensity</text>
<text transform="translate(1.05,265.6) scale(1.151,1)" font-family='"Liberation Serif", serif' font-size="14.5" font-weight="bold" fill="#111">(C)</text>
<line x1="71.7" y1="305" x2="71.7" y2="359" stroke="#444" stroke-width="0.9"/>
<path d="M71.7,364.5 L70.1,358.5 L73.3,358.5 Z" fill="#222"/>
<text transform="translate(76.18,329.5) scale(1.050,1)" font-family='"Liberation Sans", sans-serif' font-size="9.8" fill="#262626">HSO</text>
<text transform="translate(98.6,333.6) scale(1.184,1)" font-family='"Liberation Sans", sans-serif' font-size="6.4" fill="#262626">3</text>
<text transform="translate(103.63,322.6) scale(1.361,1)" font-family='"Liberation Sans", sans-serif' font-size="6" fill="#262626">-</text>
<line x1="267.6" y1="272" x2="293.6" y2="272" stroke="#111" stroke-width="2.2"/>
<text transform="translate(295.76,275.4) scale(1.160,1)" font-family='"Liberation Sans", sans-serif' font-size="9.4" fill="#262626">0</text>
<line x1="267.6" y1="285.95" x2="293.6" y2="285.95" stroke="#7a7a7a" stroke-width="2.2"/>
<text transform="translate(295.76,289.35) scale(1.160,1)" font-family='"Liberation Sans", sans-serif' font-size="9.4" fill="#262626">0.5×10</text>
<text transform="translate(329.24,284.45) scale(1.100,1)" font-family='"Liberation Sans", sans-serif' font-size="5.6" fill="#262626">-4</text>
<line x1="267.6" y1="299.9" x2="293.6" y2="299.9" stroke="#2e2e2e" stroke-width="2.2"/>
<text transform="translate(295.38,303.3) scale(1.160,1)" font-family='"Liberation Sans", sans-serif' font-size="9.4" fill="#262626">1×10</text>
<text transform="translate(319.76,298.4) scale(1.100,1)" font-family='"Liberation Sans", sans-serif' font-size="5.6" fill="#262626">-4</text>
<line x1="267.6" y1="313.85" x2="293.6" y2="313.85" stroke="#555" stroke-width="2.2"/>
<text transform="translate(295.38,317.25) scale(1.160,1)" font-family='"Liberation Sans", sans-serif' font-size="9.4" fill="#262626">1.5×10</text>
<text transform="translate(328.86,312.35) scale(1.100,1)" font-family='"Liberation Sans", sans-serif' font-size="5.6" fill="#262626">-4</text>
<line x1="267.6" y1="327.8" x2="293.6" y2="327.8" stroke="#c4c4c4" stroke-width="2.2"/>
<text transform="translate(295.65,331.2) scale(1.160,1)" font-family='"Liberation Sans", sans-serif' font-size="9.4" fill="#262626">2×10</text>
<text transform="translate(320.03,326.3) scale(1.100,1)" font-family='"Liberation Sans", sans-serif' font-size="5.6" fill="#262626">-4</text>
<line x1="267.6" y1="341.75" x2="293.6" y2="341.75" stroke="#4a4a4a" stroke-width="2.2"/>
<text transform="translate(295.65,345.15) scale(1.160,1)" font-family='"Liberation Sans", sans-serif' font-size="9.4" fill="#262626">2.5×10</text>
<text transform="translate(329.13,340.25) scale(1.100,1)" font-family='"Liberation Sans", sans-serif' font-size="5.6" fill="#262626">-4</text>
<line x1="267.6" y1="355.7" x2="293.6" y2="355.7" stroke="#1a1a1a" stroke-width="2.2"/>
<text transform="translate(295.76,359.1) scale(1.160,1)" font-family='"Liberation Sans", sans-serif' font-size="9.4" fill="#262626">3×10</text>
<text transform="translate(320.14,354.2) scale(1.100,1)" font-family='"Liberation Sans", sans-serif' font-size="5.6" fill="#262626">-4</text>
<line x1="267.6" y1="369.65" x2="293.6" y2="369.65" stroke="#3a3a3a" stroke-width="2.2"/>
<text transform="translate(295.98,373.05) scale(1.160,1)" font-family='"Liberation Sans", sans-serif' font-size="9.4" fill="#262626">4×10</text>
<text transform="translate(320.36,368.15) scale(1.100,1)" font-family='"Liberation Sans", sans-serif' font-size="5.6" fill="#262626">-4</text>
<line x1="267.6" y1="383.6" x2="293.6" y2="383.6" stroke="#8a8a8a" stroke-width="2.2"/>
<text transform="translate(295.76,387) scale(1.160,1)" font-family='"Liberation Sans", sans-serif' font-size="9.4" fill="#262626">5×10</text>
<text transform="translate(320.14,382.1) scale(1.100,1)" font-family='"Liberation Sans", sans-serif' font-size="5.6" fill="#262626">-4</text>
<text transform="translate(326.29,387) scale(1.159,1)" font-family='"Liberation Sans", sans-serif' font-size="9.4" fill="#262626">mol/L</text>
<line x1="440.6" y1="286.05" x2="702.29" y2="430.3" stroke="#bdbdbd" stroke-width="0.9"/>
<line x1="473.31" y1="301.25" x2="473.31" y2="303.34" stroke="#777" stroke-width="0.8"/>
<line x1="471.31" y1="301.25" x2="475.31" y2="301.25" stroke="#777" stroke-width="0.8"/>
<line x1="471.31" y1="303.34" x2="475.31" y2="303.34" stroke="#777" stroke-width="0.8"/>
<line x1="506.02" y1="324.86" x2="506.02" y2="330.97" stroke="#777" stroke-width="0.8"/>
<line x1="504.02" y1="324.86" x2="508.02" y2="324.86" stroke="#777" stroke-width="0.8"/>
<line x1="504.02" y1="330.97" x2="508.02" y2="330.97" stroke="#777" stroke-width="0.8"/>
<line x1="538.73" y1="340.25" x2="538.73" y2="342.34" stroke="#777" stroke-width="0.8"/>
<line x1="536.73" y1="340.25" x2="540.73" y2="340.25" stroke="#777" stroke-width="0.8"/>
<line x1="536.73" y1="342.34" x2="540.73" y2="342.34" stroke="#777" stroke-width="0.8"/>
<line x1="571.44" y1="351.89" x2="571.44" y2="361.14" stroke="#777" stroke-width="0.8"/>
<line x1="569.44" y1="351.89" x2="573.44" y2="351.89" stroke="#777" stroke-width="0.8"/>
<line x1="569.44" y1="361.14" x2="573.44" y2="361.14" stroke="#777" stroke-width="0.8"/>
<line x1="604.16" y1="377.94" x2="604.16" y2="379.69" stroke="#777" stroke-width="0.8"/>
<line x1="602.16" y1="377.94" x2="606.16" y2="377.94" stroke="#777" stroke-width="0.8"/>
<line x1="602.16" y1="379.69" x2="606.16" y2="379.69" stroke="#777" stroke-width="0.8"/>
<line x1="636.87" y1="395.7" x2="636.87" y2="397.79" stroke="#777" stroke-width="0.8"/>
<line x1="634.87" y1="395.7" x2="638.87" y2="395.7" stroke="#777" stroke-width="0.8"/>
<line x1="634.87" y1="397.79" x2="638.87" y2="397.79" stroke="#777" stroke-width="0.8"/>
<line x1="702.29" y1="422.98" x2="702.29" y2="424.73" stroke="#777" stroke-width="0.8"/>
<line x1="700.29" y1="422.98" x2="704.29" y2="422.98" stroke="#777" stroke-width="0.8"/>
<line x1="700.29" y1="424.73" x2="704.29" y2="424.73" stroke="#777" stroke-width="0.8"/>
<clipPath id="clipD"><rect x="440.6" y="264.6" width="294.4" height="192.39999999999998"/></clipPath>
<g clip-path="url(#clipD)">
<rect x="438.4" y="277.2" width="4.4" height="4.0" fill="#000"/>
<rect x="471.11" y="300.29" width="4.4" height="4.0" fill="#000"/>
<rect x="503.82" y="325.92" width="4.4" height="4.0" fill="#000"/>
<rect x="536.53" y="339.3" width="4.4" height="4.0" fill="#000"/>
<rect x="569.24" y="354.51" width="4.4" height="4.0" fill="#000"/>
<rect x="601.96" y="376.82" width="4.4" height="4.0" fill="#000"/>
<rect x="634.67" y="394.74" width="4.4" height="4.0" fill="#000"/>
<rect x="700.09" y="421.85" width="4.4" height="4.0" fill="#000"/>
</g>
<line x1="440" y1="264.6" x2="735.6" y2="264.6" stroke="#4a4a4a" stroke-width="1.2"/>
<line x1="735" y1="264.6" x2="735" y2="457" stroke="#4a4a4a" stroke-width="1.5"/>
<line x1="440.6" y1="264" x2="440.6" y2="457.6" stroke="#3a3a3a" stroke-width="1.3"/>
<line x1="440" y1="457" x2="735.6" y2="457" stroke="#555" stroke-width="1.6"/>
<line x1="438.1" y1="448.25" x2="440.6" y2="448.25" stroke="#383838" stroke-width="1"/>
<line x1="438.1" y1="430.76" x2="440.6" y2="430.76" stroke="#383838" stroke-width="1"/>
<line x1="438.1" y1="413.27" x2="440.6" y2="413.27" stroke="#383838" stroke-width="1"/>
<line x1="438.1" y1="395.78" x2="440.6" y2="395.78" stroke="#383838" stroke-width="1"/>
<line x1="438.1" y1="378.29" x2="440.6" y2="378.29" stroke="#383838" stroke-width="1"/>
<line x1="438.1" y1="360.8" x2="440.6" y2="360.8" stroke="#383838" stroke-width="1"/>
<line x1="438.1" y1="343.31" x2="440.6" y2="343.31" stroke="#383838" stroke-width="1"/>
<line x1="438.1" y1="325.82" x2="440.6" y2="325.82" stroke="#383838" stroke-width="1"/>
<line x1="438.1" y1="308.33" x2="440.6" y2="308.33" stroke="#383838" stroke-width="1"/>
<line x1="438.1" y1="290.84" x2="440.6" y2="290.84" stroke="#383838" stroke-width="1"/>
<line x1="438.1" y1="273.35" x2="440.6" y2="273.35" stroke="#383838" stroke-width="1"/>
<line x1="435.8" y1="457" x2="440.6" y2="457" stroke="#383838" stroke-width="1"/>
<text transform="translate(427.91,459) scale(1.040,1)" font-family='"Liberation Sans", sans-serif' font-size="8.3" fill="#262626">0</text>
<line x1="435.8" y1="439.51" x2="440.6" y2="439.51" stroke="#383838" stroke-width="1"/>
<text transform="translate(423.12,441.51) scale(1.040,1)" font-family='"Liberation Sans", sans-serif' font-size="8.3" fill="#262626">20</text>
<line x1="435.8" y1="422.02" x2="440.6" y2="422.02" stroke="#383838" stroke-width="1"/>
<text transform="translate(423.12,424.02) scale(1.040,1)" font-family='"Liberation Sans", sans-serif' font-size="8.3" fill="#262626">40</text>
<line x1="435.8" y1="404.53" x2="440.6" y2="404.53" stroke="#383838" stroke-width="1"/>
<text transform="translate(423.12,406.53) scale(1.040,1)" font-family='"Liberation Sans", sans-serif' font-size="8.3" fill="#262626">60</text>
<line x1="435.8" y1="387.04" x2="440.6" y2="387.04" stroke="#383838" stroke-width="1"/>
<text transform="translate(423.12,389.04) scale(1.040,1)" font-family='"Liberation Sans", sans-serif' font-size="8.3" fill="#262626">80</text>
<line x1="435.8" y1="369.55" x2="440.6" y2="369.55" stroke="#383838" stroke-width="1"/>
<text transform="translate(418.33,371.55) scale(1.040,1)" font-family='"Liberation Sans", sans-serif' font-size="8.3" fill="#262626">100</text>
<line x1="435.8" y1="352.05" x2="440.6" y2="352.05" stroke="#383838" stroke-width="1"/>
<text transform="translate(418.33,354.06) scale(1.040,1)" font-family='"Liberation Sans", sans-serif' font-size="8.3" fill="#262626">120</text>
<line x1="435.8" y1="334.56" x2="440.6" y2="334.56" stroke="#383838" stroke-width="1"/>
<text transform="translate(418.33,336.57) scale(1.040,1)" font-family='"Liberation Sans", sans-serif' font-size="8.3" fill="#262626">140</text>
<line x1="435.8" y1="317.07" x2="440.6" y2="317.07" stroke="#383838" stroke-width="1"/>
<text transform="translate(418.33,319.08) scale(1.040,1)" font-family='"Liberation Sans", sans-serif' font-size="8.3" fill="#262626">160</text>
<line x1="435.8" y1="299.58" x2="440.6" y2="299.58" stroke="#383838" stroke-width="1"/>
<text transform="translate(418.33,301.59) scale(1.040,1)" font-family='"Liberation Sans", sans-serif' font-size="8.3" fill="#262626">180</text>
<line x1="435.8" y1="282.09" x2="440.6" y2="282.09" stroke="#383838" stroke-width="1"/>
<text transform="translate(418.33,284.1) scale(1.040,1)" font-family='"Liberation Sans", sans-serif' font-size="8.3" fill="#262626">200</text>
<line x1="435.8" y1="264.6" x2="440.6" y2="264.6" stroke="#383838" stroke-width="1"/>
<text transform="translate(418.33,266.61) scale(1.040,1)" font-family='"Liberation Sans", sans-serif' font-size="8.3" fill="#262626">220</text>
<line x1="473.31" y1="457" x2="473.31" y2="459" stroke="#383838" stroke-width="1"/>
<line x1="538.73" y1="457" x2="538.73" y2="459" stroke="#383838" stroke-width="1"/>
<line x1="604.16" y1="457" x2="604.16" y2="459" stroke="#383838" stroke-width="1"/>
<line x1="669.58" y1="457" x2="669.58" y2="459" stroke="#383838" stroke-width="1"/>
<line x1="735" y1="457" x2="735" y2="459" stroke="#383838" stroke-width="1"/>
<line x1="440.6" y1="457" x2="440.6" y2="461.1" stroke="#383838" stroke-width="1"/>
<text transform="translate(434.58,470) scale(1.040,1)" font-family='"Liberation Sans", sans-serif' font-size="8.3" fill="#262626">0.0</text>
<line x1="506.02" y1="457" x2="506.02" y2="461.1" stroke="#383838" stroke-width="1"/>
<text transform="translate(500.04,470) scale(1.040,1)" font-family='"Liberation Sans", sans-serif' font-size="8.3" fill="#262626">0.1</text>
<line x1="571.44" y1="457" x2="571.44" y2="461.1" stroke="#383838" stroke-width="1"/>
<text transform="translate(565.49,470) scale(1.040,1)" font-family='"Liberation Sans", sans-serif' font-size="8.3" fill="#262626">0.2</text>
<line x1="636.87" y1="457" x2="636.87" y2="461.1" stroke="#383838" stroke-width="1"/>
<text transform="translate(630.87,470) scale(1.040,1)" font-family='"Liberation Sans", sans-serif' font-size="8.3" fill="#262626">0.3</text>
<line x1="702.29" y1="457" x2="702.29" y2="461.1" stroke="#383838" stroke-width="1"/>
<text transform="translate(696.25,470) scale(1.040,1)" font-family='"Liberation Sans", sans-serif' font-size="8.3" fill="#262626">0.4</text>
<text transform="translate(383.55,265.5) scale(1.146,1)" font-family='"Liberation Serif", serif' font-size="14.5" font-weight="bold" fill="#111">(D)</text>
<text transform="translate(402.5,413.77) rotate(-90) scale(0.966,1)" font-family='"Liberation Sans", sans-serif' font-size="9.9" fill="#262626">Flurorescence intensity</text>
<text transform="translate(561.71,486.5) scale(1.262,1)" font-family='"Liberation Sans", sans-serif' font-size="9" fill="#262626">[HSO</text>
<text transform="translate(588.95,491) scale(1.053,1)" font-family='"Liberation Sans", sans-serif' font-size="6" fill="#262626">3</text>
<text transform="translate(592.31,482.5) scale(1.126,1)" font-family='"Liberation Sans", sans-serif' font-size="5.8" fill="#262626">-</text>
<text transform="translate(596.94,486.5) scale(1.228,1)" font-family='"Liberation Sans", sans-serif' font-size="9" fill="#262626">]/mM</text>
<text transform="translate(577.13,291.9) scale(1.274,1)" font-family='"Liberation Sans", sans-serif' font-size="10.6" fill="#262626">y=195.4757-412.3757x</text>
<text transform="translate(618.88,314.8) scale(1.080,1)" font-family='"Liberation Sans", sans-serif' font-size="10.6" fill="#262626">R</text>
<text transform="translate(627.84,305.8) scale(1.050,1)" font-family='"Liberation Sans", sans-serif' font-size="6.8" fill="#262626">2</text>
<text transform="translate(631.75,314.8) scale(1.229,1)" font-family='"Liberation Sans", sans-serif' font-size="10.6" fill="#262626">=0.9910</text>
</g></svg></body></html>
